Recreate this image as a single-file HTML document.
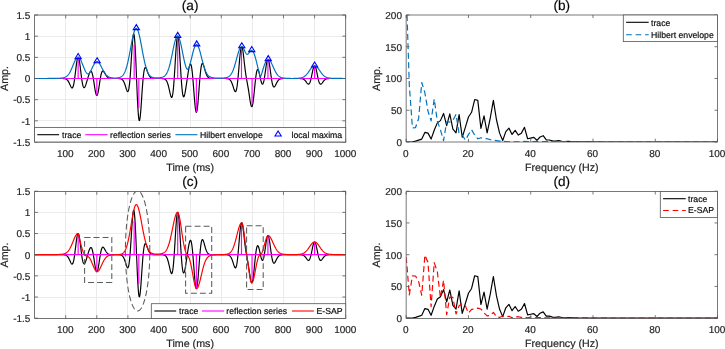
<!DOCTYPE html>
<html><head><meta charset="utf-8"><title>figure</title>
<style>html,body{margin:0;padding:0;background:#fff;}body{width:725px;height:349px;overflow:hidden;position:relative;font-family:"Liberation Sans",sans-serif;}</style>
</head><body>
<svg width="725" height="349" viewBox="0 0 725 349" style="position:absolute;left:0;top:0;will-change:transform;text-rendering:geometricPrecision;font-family:'Liberation Sans',sans-serif">
<rect width="725" height="349" fill="#fff"/>
<style>text{stroke:#262626;stroke-width:0.2px;}</style>
<defs>
<clipPath id="cpa"><rect x="34.60" y="15.00" width="311.10" height="127.00"/></clipPath>
<clipPath id="cpc"><rect x="34.60" y="191.50" width="311.10" height="127.00"/></clipPath>
<clipPath id="cpb"><rect x="406.20" y="15.00" width="311.30" height="127.00"/></clipPath>
<clipPath id="cpd"><rect x="406.20" y="191.50" width="311.30" height="127.00"/></clipPath>
</defs>
<line x1="65.50" y1="15.00" x2="65.50" y2="142.00" stroke="#ebebeb" stroke-width="1"/>
<line x1="96.50" y1="15.00" x2="96.50" y2="142.00" stroke="#ebebeb" stroke-width="1"/>
<line x1="127.50" y1="15.00" x2="127.50" y2="142.00" stroke="#ebebeb" stroke-width="1"/>
<line x1="159.50" y1="15.00" x2="159.50" y2="142.00" stroke="#ebebeb" stroke-width="1"/>
<line x1="190.50" y1="15.00" x2="190.50" y2="142.00" stroke="#ebebeb" stroke-width="1"/>
<line x1="221.50" y1="15.00" x2="221.50" y2="142.00" stroke="#ebebeb" stroke-width="1"/>
<line x1="252.50" y1="15.00" x2="252.50" y2="142.00" stroke="#ebebeb" stroke-width="1"/>
<line x1="283.50" y1="15.00" x2="283.50" y2="142.00" stroke="#ebebeb" stroke-width="1"/>
<line x1="314.50" y1="15.00" x2="314.50" y2="142.00" stroke="#ebebeb" stroke-width="1"/>
<line x1="345.50" y1="15.00" x2="345.50" y2="142.00" stroke="#ebebeb" stroke-width="1"/>
<line x1="34.60" y1="142.50" x2="345.70" y2="142.50" stroke="#ebebeb" stroke-width="1"/>
<line x1="34.60" y1="120.50" x2="345.70" y2="120.50" stroke="#ebebeb" stroke-width="1"/>
<line x1="34.60" y1="99.50" x2="345.70" y2="99.50" stroke="#ebebeb" stroke-width="1"/>
<line x1="34.60" y1="78.50" x2="345.70" y2="78.50" stroke="#ebebeb" stroke-width="1"/>
<line x1="34.60" y1="57.50" x2="345.70" y2="57.50" stroke="#ebebeb" stroke-width="1"/>
<line x1="34.60" y1="36.50" x2="345.70" y2="36.50" stroke="#ebebeb" stroke-width="1"/>
<line x1="34.60" y1="15.50" x2="345.70" y2="15.50" stroke="#ebebeb" stroke-width="1"/>
<path d="M34.60,78.50 L34.91,78.50 L35.22,78.50 L35.53,78.50 L35.84,78.50 L36.16,78.50 L36.47,78.50 L36.78,78.50 L37.09,78.50 L37.40,78.50 L37.71,78.50 L38.02,78.50 L38.33,78.50 L38.64,78.50 L38.96,78.50 L39.27,78.50 L39.58,78.50 L39.89,78.50 L40.20,78.50 L40.51,78.50 L40.82,78.50 L41.13,78.50 L41.44,78.50 L41.76,78.50 L42.07,78.50 L42.38,78.50 L42.69,78.50 L43.00,78.50 L43.31,78.50 L43.62,78.50 L43.93,78.50 L44.24,78.50 L44.56,78.50 L44.87,78.50 L45.18,78.50 L45.49,78.50 L45.80,78.50 L46.11,78.50 L46.42,78.50 L46.73,78.50 L47.04,78.50 L47.36,78.50 L47.67,78.50 L47.98,78.50 L48.29,78.50 L48.60,78.50 L48.91,78.50 L49.22,78.50 L49.53,78.50 L49.84,78.50 L50.16,78.50 L50.47,78.50 L50.78,78.50 L51.09,78.50 L51.40,78.50 L51.71,78.50 L52.02,78.50 L52.33,78.50 L52.64,78.50 L52.95,78.50 L53.27,78.50 L53.58,78.50 L53.89,78.50 L54.20,78.50 L54.51,78.50 L54.82,78.50 L55.13,78.50 L55.44,78.50 L55.75,78.50 L56.07,78.50 L56.38,78.50 L56.69,78.50 L57.00,78.50 L57.31,78.50 L57.62,78.50 L57.93,78.50 L58.24,78.50 L58.55,78.50 L58.87,78.50 L59.18,78.50 L59.49,78.50 L59.80,78.50 L60.11,78.50 L60.42,78.50 L60.73,78.50 L61.04,78.50 L61.35,78.50 L61.67,78.51 L61.98,78.51 L62.29,78.51 L62.60,78.52 L62.91,78.53 L63.22,78.54 L63.53,78.56 L63.84,78.58 L64.15,78.61 L64.47,78.64 L64.78,78.69 L65.09,78.76 L65.40,78.84 L65.71,78.94 L66.02,79.07 L66.33,79.24 L66.64,79.43 L66.95,79.67 L67.27,79.96 L67.58,80.29 L67.89,80.68 L68.20,81.13 L68.51,81.64 L68.82,82.20 L69.13,82.82 L69.44,83.47 L69.75,84.16 L70.07,84.87 L70.38,85.56 L70.69,86.23 L71.00,86.83 L71.31,87.34 L71.62,87.71 L71.93,87.92 L72.24,87.92 L72.55,87.68 L72.87,87.17 L73.18,86.37 L73.49,85.26 L73.80,83.85 L74.11,82.13 L74.42,80.14 L74.73,77.91 L75.04,75.50 L75.35,72.96 L75.67,70.37 L75.98,67.81 L76.29,65.36 L76.60,63.11 L76.91,61.14 L77.22,59.52 L77.53,58.32 L77.84,57.58 L78.15,57.33 L78.47,57.58 L78.78,58.32 L79.09,59.52 L79.40,61.14 L79.71,63.11 L80.02,65.35 L80.33,67.80 L80.64,70.36 L80.95,72.95 L81.26,75.48 L81.58,77.89 L81.89,80.11 L82.20,82.09 L82.51,83.78 L82.82,85.18 L83.13,86.25 L83.44,87.01 L83.75,87.47 L84.06,87.65 L84.38,87.56 L84.69,87.25 L85.00,86.75 L85.31,86.08 L85.62,85.29 L85.93,84.40 L86.24,83.43 L86.55,82.42 L86.86,81.37 L87.18,80.30 L87.49,79.24 L87.80,78.19 L88.11,77.15 L88.42,76.15 L88.73,75.20 L89.04,74.31 L89.35,73.49 L89.66,72.77 L89.98,72.17 L90.29,71.71 L90.60,71.41 L90.91,71.31 L91.22,71.42 L91.53,71.76 L91.84,72.35 L92.15,73.20 L92.46,74.30 L92.78,75.65 L93.09,77.23 L93.40,79.00 L93.71,80.92 L94.02,82.95 L94.33,85.02 L94.64,87.06 L94.95,89.02 L95.26,90.82 L95.58,92.39 L95.89,93.68 L96.20,94.64 L96.51,95.23 L96.82,95.43 L97.13,95.23 L97.44,94.64 L97.75,93.68 L98.06,92.39 L98.38,90.81 L98.69,89.01 L99.00,87.06 L99.31,85.01 L99.62,82.93 L99.93,80.90 L100.24,78.97 L100.55,77.19 L100.86,75.59 L101.18,74.22 L101.49,73.09 L101.80,72.21 L102.11,71.56 L102.42,71.16 L102.73,70.97 L103.04,70.97 L103.35,71.13 L103.66,71.43 L103.98,71.84 L104.29,72.32 L104.60,72.85 L104.91,73.41 L105.22,73.97 L105.53,74.52 L105.84,75.05 L106.15,75.54 L106.46,75.99 L106.78,76.39 L107.09,76.75 L107.40,77.07 L107.71,77.33 L108.02,77.56 L108.33,77.75 L108.64,77.91 L108.95,78.04 L109.26,78.14 L109.58,78.23 L109.89,78.29 L110.20,78.34 L110.51,78.38 L110.82,78.41 L111.13,78.44 L111.44,78.45 L111.75,78.47 L112.06,78.48 L112.38,78.48 L112.69,78.49 L113.00,78.49 L113.31,78.49 L113.62,78.50 L113.93,78.50 L114.24,78.50 L114.55,78.50 L114.86,78.50 L115.17,78.50 L115.49,78.50 L115.80,78.50 L116.11,78.50 L116.42,78.50 L116.73,78.50 L117.04,78.51 L117.35,78.51 L117.66,78.51 L117.97,78.52 L118.29,78.52 L118.60,78.53 L118.91,78.55 L119.22,78.57 L119.53,78.59 L119.84,78.62 L120.15,78.67 L120.46,78.73 L120.77,78.81 L121.09,78.91 L121.40,79.04 L121.71,79.21 L122.02,79.41 L122.33,79.67 L122.64,79.98 L122.95,80.36 L123.26,80.80 L123.57,81.33 L123.89,81.94 L124.20,82.63 L124.51,83.41 L124.82,84.27 L125.13,85.20 L125.44,86.19 L125.75,87.20 L126.06,88.21 L126.37,89.18 L126.69,90.06 L127.00,90.80 L127.31,91.33 L127.62,91.60 L127.93,91.53 L128.24,91.06 L128.55,90.13 L128.86,88.69 L129.17,86.70 L129.49,84.14 L129.80,81.01 L130.11,77.35 L130.42,73.20 L130.73,68.65 L131.04,63.81 L131.35,58.81 L131.66,53.82 L131.97,49.02 L132.29,44.57 L132.60,40.69 L132.91,37.54 L133.22,35.29 L133.53,34.08 L133.84,34.02 L134.15,35.17 L134.46,37.55 L134.77,41.13 L135.09,45.84 L135.40,51.54 L135.71,58.07 L136.02,65.23 L136.33,72.77 L136.64,80.46 L136.95,88.03 L137.26,95.25 L137.57,101.87 L137.89,107.69 L138.20,112.56 L138.51,116.34 L138.82,118.95 L139.13,120.37 L139.44,120.62 L139.75,119.75 L140.06,117.87 L140.37,115.12 L140.69,111.64 L141.00,107.61 L141.31,103.21 L141.62,98.62 L141.93,94.00 L142.24,89.51 L142.55,85.26 L142.86,81.37 L143.17,77.92 L143.48,74.96 L143.80,72.51 L144.11,70.57 L144.42,69.14 L144.73,68.18 L145.04,67.65 L145.35,67.48 L145.66,67.62 L145.97,68.02 L146.28,68.60 L146.60,69.32 L146.91,70.13 L147.22,70.99 L147.53,71.85 L147.84,72.69 L148.15,73.49 L148.46,74.23 L148.77,74.91 L149.08,75.51 L149.40,76.04 L149.71,76.49 L150.02,76.88 L150.33,77.21 L150.64,77.48 L150.95,77.70 L151.26,77.88 L151.57,78.03 L151.88,78.14 L152.20,78.23 L152.51,78.30 L152.82,78.35 L153.13,78.39 L153.44,78.42 L153.75,78.44 L154.06,78.46 L154.37,78.47 L154.68,78.48 L155.00,78.49 L155.31,78.49 L155.62,78.49 L155.93,78.50 L156.24,78.50 L156.55,78.50 L156.86,78.50 L157.17,78.50 L157.48,78.50 L157.80,78.50 L158.11,78.50 L158.42,78.50 L158.73,78.50 L159.04,78.50 L159.35,78.50 L159.66,78.50 L159.97,78.50 L160.28,78.50 L160.60,78.51 L160.91,78.51 L161.22,78.51 L161.53,78.52 L161.84,78.53 L162.15,78.54 L162.46,78.56 L162.77,78.58 L163.08,78.61 L163.40,78.66 L163.71,78.71 L164.02,78.79 L164.33,78.89 L164.64,79.02 L164.95,79.18 L165.26,79.39 L165.57,79.65 L165.88,79.97 L166.20,80.37 L166.51,80.84 L166.82,81.41 L167.13,82.09 L167.44,82.87 L167.75,83.76 L168.06,84.78 L168.37,85.90 L168.68,87.13 L169.00,88.45 L169.31,89.82 L169.62,91.23 L169.93,92.63 L170.24,93.96 L170.55,95.16 L170.86,96.17 L171.17,96.92 L171.48,97.34 L171.80,97.34 L172.11,96.86 L172.42,95.84 L172.73,94.24 L173.04,92.02 L173.35,89.19 L173.66,85.76 L173.97,81.78 L174.28,77.33 L174.59,72.50 L174.91,67.42 L175.22,62.23 L175.53,57.11 L175.84,52.21 L176.15,47.72 L176.46,43.78 L176.77,40.55 L177.08,38.15 L177.39,36.67 L177.71,36.17 L178.02,36.67 L178.33,38.14 L178.64,40.55 L178.95,43.78 L179.26,47.71 L179.57,52.21 L179.88,57.10 L180.19,62.22 L180.51,67.39 L180.82,72.46 L181.13,77.28 L181.44,81.72 L181.75,85.67 L182.06,89.07 L182.37,91.85 L182.68,94.00 L182.99,95.53 L183.31,96.44 L183.62,96.79 L183.93,96.62 L184.24,96.00 L184.55,95.00 L184.86,93.67 L185.17,92.08 L185.48,90.29 L185.79,88.36 L186.11,86.33 L186.42,84.24 L186.73,82.11 L187.04,79.98 L187.35,77.87 L187.66,75.81 L187.97,73.81 L188.28,71.90 L188.59,70.11 L188.91,68.48 L189.22,67.04 L189.53,65.83 L189.84,64.91 L190.15,64.32 L190.46,64.11 L190.77,64.33 L191.08,65.02 L191.39,66.20 L191.71,67.90 L192.02,70.10 L192.33,72.80 L192.64,75.95 L192.95,79.50 L193.26,83.34 L193.57,87.39 L193.88,91.53 L194.19,95.63 L194.51,99.54 L194.82,103.13 L195.13,106.28 L195.44,108.86 L195.75,110.79 L196.06,111.97 L196.37,112.37 L196.68,111.97 L196.99,110.78 L197.31,108.86 L197.62,106.28 L197.93,103.13 L198.24,99.53 L198.55,95.61 L198.86,91.51 L199.17,87.37 L199.48,83.30 L199.79,79.44 L200.11,75.87 L200.42,72.69 L200.73,69.95 L201.04,67.68 L201.35,65.91 L201.66,64.63 L201.97,63.81 L202.28,63.43 L202.59,63.43 L202.91,63.76 L203.22,64.36 L203.53,65.17 L203.84,66.14 L204.15,67.20 L204.46,68.31 L204.77,69.44 L205.08,70.54 L205.39,71.60 L205.70,72.58 L206.02,73.48 L206.33,74.29 L206.64,75.01 L206.95,75.63 L207.26,76.17 L207.57,76.62 L207.88,77.01 L208.19,77.32 L208.50,77.58 L208.82,77.79 L209.13,77.95 L209.44,78.09 L209.75,78.19 L210.06,78.27 L210.37,78.33 L210.68,78.37 L210.99,78.41 L211.30,78.43 L211.62,78.45 L211.93,78.47 L212.24,78.48 L212.55,78.48 L212.86,78.49 L213.17,78.49 L213.48,78.49 L213.79,78.50 L214.10,78.50 L214.42,78.50 L214.73,78.50 L215.04,78.50 L215.35,78.50 L215.66,78.50 L215.97,78.50 L216.28,78.50 L216.59,78.50 L216.90,78.50 L217.22,78.50 L217.53,78.50 L217.84,78.50 L218.15,78.50 L218.46,78.50 L218.77,78.50 L219.08,78.50 L219.39,78.50 L219.70,78.50 L220.02,78.50 L220.33,78.50 L220.64,78.50 L220.95,78.50 L221.26,78.50 L221.57,78.50 L221.88,78.50 L222.19,78.50 L222.50,78.50 L222.82,78.50 L223.13,78.50 L223.44,78.50 L223.75,78.50 L224.06,78.50 L224.37,78.50 L224.68,78.51 L224.99,78.51 L225.30,78.51 L225.62,78.52 L225.93,78.53 L226.24,78.54 L226.55,78.56 L226.86,78.58 L227.17,78.61 L227.48,78.65 L227.79,78.70 L228.10,78.77 L228.42,78.86 L228.73,78.98 L229.04,79.12 L229.35,79.30 L229.66,79.53 L229.97,79.81 L230.28,80.14 L230.59,80.54 L230.90,81.01 L231.22,81.56 L231.53,82.19 L231.84,82.89 L232.15,83.68 L232.46,84.54 L232.77,85.46 L233.08,86.43 L233.39,87.41 L233.70,88.39 L234.02,89.32 L234.33,90.16 L234.64,90.87 L234.95,91.39 L235.26,91.68 L235.57,91.68 L235.88,91.34 L236.19,90.62 L236.50,89.49 L236.81,87.93 L237.13,85.94 L237.44,83.52 L237.75,80.71 L238.06,77.55 L238.37,74.12 L238.68,70.51 L238.99,66.80 L239.30,63.12 L239.61,59.57 L239.93,56.26 L240.24,53.31 L240.55,50.81 L240.86,48.85 L241.17,47.47 L241.48,46.71 L241.79,46.60 L242.10,47.09 L242.41,48.17 L242.73,49.75 L243.04,51.77 L243.35,54.13 L243.66,56.73 L243.97,59.47 L244.28,62.27 L244.59,65.02 L244.90,67.68 L245.21,70.19 L245.53,72.53 L245.84,74.68 L246.15,76.66 L246.46,78.50 L246.77,80.23 L247.08,81.91 L247.39,83.57 L247.70,85.27 L248.01,87.04 L248.33,88.90 L248.64,90.87 L248.95,92.92 L249.26,95.04 L249.57,97.17 L249.88,99.26 L250.19,101.24 L250.50,103.01 L250.81,104.52 L251.13,105.67 L251.44,106.40 L251.75,106.67 L252.06,106.42 L252.37,105.66 L252.68,104.38 L252.99,102.61 L253.30,100.41 L253.61,97.85 L253.93,94.99 L254.24,91.94 L254.55,88.80 L254.86,85.65 L255.17,82.61 L255.48,79.75 L255.79,77.16 L256.10,74.88 L256.41,72.98 L256.73,71.48 L257.04,70.40 L257.35,69.73 L257.66,69.47 L257.97,69.58 L258.28,70.03 L258.59,70.78 L258.90,71.78 L259.21,72.98 L259.53,74.32 L259.84,75.75 L260.15,77.22 L260.46,78.66 L260.77,80.03 L261.08,81.27 L261.39,82.35 L261.70,83.21 L262.01,83.82 L262.33,84.14 L262.64,84.15 L262.95,83.83 L263.26,83.18 L263.57,82.19 L263.88,80.89 L264.19,79.29 L264.50,77.44 L264.81,75.39 L265.13,73.20 L265.44,70.95 L265.75,68.70 L266.06,66.54 L266.37,64.55 L266.68,62.81 L266.99,61.37 L267.30,60.31 L267.61,59.65 L267.93,59.43 L268.24,59.66 L268.55,60.33 L268.86,61.42 L269.17,62.87 L269.48,64.64 L269.79,66.67 L270.10,68.87 L270.41,71.18 L270.72,73.51 L271.04,75.80 L271.35,77.97 L271.66,79.98 L271.97,81.77 L272.28,83.31 L272.59,84.59 L272.90,85.58 L273.21,86.30 L273.52,86.76 L273.84,86.98 L274.15,86.98 L274.46,86.79 L274.77,86.45 L275.08,86.00 L275.39,85.46 L275.70,84.86 L276.01,84.23 L276.32,83.60 L276.64,82.98 L276.95,82.38 L277.26,81.83 L277.57,81.32 L277.88,80.87 L278.19,80.47 L278.50,80.11 L278.81,79.81 L279.12,79.55 L279.44,79.34 L279.75,79.16 L280.06,79.02 L280.37,78.90 L280.68,78.81 L280.99,78.73 L281.30,78.68 L281.61,78.63 L281.92,78.60 L282.24,78.57 L282.55,78.55 L282.86,78.54 L283.17,78.53 L283.48,78.52 L283.79,78.51 L284.10,78.51 L284.41,78.51 L284.72,78.50 L285.04,78.50 L285.35,78.50 L285.66,78.50 L285.97,78.50 L286.28,78.50 L286.59,78.50 L286.90,78.50 L287.21,78.50 L287.52,78.50 L287.84,78.50 L288.15,78.50 L288.46,78.50 L288.77,78.50 L289.08,78.50 L289.39,78.50 L289.70,78.50 L290.01,78.50 L290.32,78.50 L290.64,78.50 L290.95,78.50 L291.26,78.50 L291.57,78.50 L291.88,78.50 L292.19,78.50 L292.50,78.50 L292.81,78.50 L293.12,78.50 L293.44,78.50 L293.75,78.50 L294.06,78.50 L294.37,78.50 L294.68,78.50 L294.99,78.50 L295.30,78.50 L295.61,78.50 L295.92,78.50 L296.24,78.50 L296.55,78.50 L296.86,78.50 L297.17,78.50 L297.48,78.50 L297.79,78.50 L298.10,78.50 L298.41,78.51 L298.72,78.51 L299.03,78.51 L299.35,78.52 L299.66,78.52 L299.97,78.53 L300.28,78.55 L300.59,78.56 L300.90,78.59 L301.21,78.62 L301.52,78.66 L301.83,78.70 L302.15,78.77 L302.46,78.84 L302.77,78.94 L303.08,79.06 L303.39,79.20 L303.70,79.37 L304.01,79.58 L304.32,79.81 L304.63,80.08 L304.95,80.38 L305.26,80.72 L305.57,81.09 L305.88,81.48 L306.19,81.90 L306.50,82.32 L306.81,82.74 L307.12,83.14 L307.43,83.50 L307.75,83.80 L308.06,84.03 L308.37,84.15 L308.68,84.15 L308.99,84.01 L309.30,83.70 L309.61,83.22 L309.92,82.56 L310.23,81.71 L310.55,80.68 L310.86,79.49 L311.17,78.15 L311.48,76.70 L311.79,75.18 L312.10,73.62 L312.41,72.08 L312.72,70.61 L313.03,69.26 L313.35,68.08 L313.66,67.11 L313.97,66.39 L314.28,65.95 L314.59,65.80 L314.90,65.95 L315.21,66.39 L315.52,67.11 L315.83,68.08 L316.15,69.26 L316.46,70.61 L316.77,72.08 L317.08,73.62 L317.39,75.18 L317.70,76.70 L318.01,78.15 L318.32,79.49 L318.63,80.68 L318.95,81.71 L319.26,82.56 L319.57,83.22 L319.88,83.70 L320.19,84.01 L320.50,84.15 L320.81,84.15 L321.12,84.03 L321.43,83.80 L321.75,83.50 L322.06,83.14 L322.37,82.74 L322.68,82.32 L322.99,81.90 L323.30,81.48 L323.61,81.09 L323.92,80.72 L324.23,80.38 L324.55,80.08 L324.86,79.81 L325.17,79.58 L325.48,79.37 L325.79,79.20 L326.10,79.06 L326.41,78.94 L326.72,78.84 L327.03,78.77 L327.35,78.70 L327.66,78.66 L327.97,78.62 L328.28,78.59 L328.59,78.56 L328.90,78.55 L329.21,78.53 L329.52,78.52 L329.83,78.52 L330.14,78.51 L330.46,78.51 L330.77,78.51 L331.08,78.50 L331.39,78.50 L331.70,78.50 L332.01,78.50 L332.32,78.50 L332.63,78.50 L332.94,78.50 L333.26,78.50 L333.57,78.50 L333.88,78.50 L334.19,78.50 L334.50,78.50 L334.81,78.50 L335.12,78.50 L335.43,78.50 L335.74,78.50 L336.06,78.50 L336.37,78.50 L336.68,78.50 L336.99,78.50 L337.30,78.50 L337.61,78.50 L337.92,78.50 L338.23,78.50 L338.54,78.50 L338.86,78.50 L339.17,78.50 L339.48,78.50 L339.79,78.50 L340.10,78.50 L340.41,78.50 L340.72,78.50 L341.03,78.50 L341.34,78.50 L341.66,78.50 L341.97,78.50 L342.28,78.50 L342.59,78.50 L342.90,78.50 L343.21,78.50 L343.52,78.50 L343.83,78.50 L344.14,78.50 L344.46,78.50 L344.77,78.50 L345.08,78.50 L345.39,78.50" fill="none" stroke="#000" stroke-width="1.18" stroke-linejoin="round" clip-path="url(#cpa)"/>
<path d="M34.60,78.50 L345.39,78.50 M78.15,78.50 L78.15,57.33 M96.82,78.50 L96.82,95.43 M134.15,78.50 L134.15,44.63 M138.82,78.50 L138.82,108.13 M177.71,78.50 L177.71,36.17 M196.37,78.50 L196.37,112.37 M241.48,78.50 L241.48,48.87 M252.06,78.50 L252.06,103.90 M267.93,78.50 L267.93,59.45 M314.59,78.50 L314.59,65.80" fill="none" stroke="#ff00ff" stroke-width="1.18" clip-path="url(#cpa)"/>
<path d="M34.60,78.48 L34.91,78.48 L35.22,78.48 L35.53,78.48 L35.84,78.49 L36.16,78.49 L36.47,78.49 L36.78,78.49 L37.09,78.49 L37.40,78.49 L37.71,78.49 L38.02,78.49 L38.33,78.50 L38.64,78.50 L38.96,78.50 L39.27,78.50 L39.58,78.50 L39.89,78.50 L40.20,78.50 L40.51,78.50 L40.82,78.50 L41.13,78.49 L41.44,78.49 L41.76,78.49 L42.07,78.49 L42.38,78.49 L42.69,78.49 L43.00,78.49 L43.31,78.49 L43.62,78.48 L43.93,78.48 L44.24,78.48 L44.56,78.48 L44.87,78.48 L45.18,78.48 L45.49,78.48 L45.80,78.47 L46.11,78.47 L46.42,78.47 L46.73,78.47 L47.04,78.47 L47.36,78.47 L47.67,78.46 L47.98,78.46 L48.29,78.46 L48.60,78.46 L48.91,78.46 L49.22,78.45 L49.53,78.45 L49.84,78.45 L50.16,78.45 L50.47,78.44 L50.78,78.44 L51.09,78.44 L51.40,78.44 L51.71,78.43 L52.02,78.43 L52.33,78.43 L52.64,78.42 L52.95,78.42 L53.27,78.41 L53.58,78.41 L53.89,78.40 L54.20,78.40 L54.51,78.39 L54.82,78.39 L55.13,78.38 L55.44,78.38 L55.75,78.37 L56.07,78.36 L56.38,78.36 L56.69,78.35 L57.00,78.34 L57.31,78.33 L57.62,78.32 L57.93,78.31 L58.24,78.30 L58.55,78.28 L58.87,78.27 L59.18,78.25 L59.49,78.24 L59.80,78.22 L60.11,78.20 L60.42,78.18 L60.73,78.15 L61.04,78.13 L61.35,78.10 L61.67,78.06 L61.98,78.02 L62.29,77.98 L62.60,77.93 L62.91,77.88 L63.22,77.82 L63.53,77.75 L63.84,77.67 L64.15,77.58 L64.47,77.49 L64.78,77.37 L65.09,77.25 L65.40,77.10 L65.71,76.94 L66.02,76.77 L66.33,76.57 L66.64,76.34 L66.95,76.10 L67.27,75.82 L67.58,75.52 L67.89,75.19 L68.20,74.83 L68.51,74.44 L68.82,74.02 L69.13,73.56 L69.44,73.07 L69.75,72.55 L70.07,71.99 L70.38,71.39 L70.69,70.77 L71.00,70.12 L71.31,69.44 L71.62,68.74 L71.93,68.01 L72.24,67.27 L72.55,66.51 L72.87,65.75 L73.18,64.98 L73.49,64.21 L73.80,63.46 L74.11,62.72 L74.42,62.00 L74.73,61.32 L75.04,60.66 L75.35,60.05 L75.67,59.49 L75.98,58.98 L76.29,58.53 L76.60,58.15 L76.91,57.83 L77.22,57.59 L77.53,57.43 L77.84,57.34 L78.15,57.33 L78.47,57.40 L78.78,57.55 L79.09,57.78 L79.40,58.09 L79.71,58.46 L80.02,58.91 L80.33,59.41 L80.64,59.98 L80.95,60.60 L81.26,61.26 L81.58,61.96 L81.89,62.69 L82.20,63.45 L82.51,64.22 L82.82,65.01 L83.13,65.79 L83.44,66.58 L83.75,67.35 L84.06,68.11 L84.38,68.85 L84.69,69.56 L85.00,70.24 L85.31,70.88 L85.62,71.48 L85.93,72.03 L86.24,72.52 L86.55,72.95 L86.86,73.32 L87.18,73.60 L87.49,73.80 L87.80,73.90 L88.11,73.91 L88.42,73.82 L88.73,73.64 L89.04,73.37 L89.35,73.03 L89.66,72.62 L89.98,72.16 L90.29,71.65 L90.60,71.10 L90.91,70.52 L91.22,69.92 L91.53,69.29 L91.84,68.66 L92.15,68.01 L92.46,67.37 L92.78,66.73 L93.09,66.10 L93.40,65.49 L93.71,64.91 L94.02,64.35 L94.33,63.83 L94.64,63.36 L94.95,62.93 L95.26,62.55 L95.58,62.23 L95.89,61.97 L96.20,61.77 L96.51,61.63 L96.82,61.56 L97.13,61.56 L97.44,61.62 L97.75,61.75 L98.06,61.93 L98.38,62.18 L98.69,62.49 L99.00,62.85 L99.31,63.25 L99.62,63.70 L99.93,64.20 L100.24,64.72 L100.55,65.28 L100.86,65.85 L101.18,66.45 L101.49,67.06 L101.80,67.67 L102.11,68.29 L102.42,68.90 L102.73,69.51 L103.04,70.11 L103.35,70.69 L103.66,71.25 L103.98,71.80 L104.29,72.32 L104.60,72.81 L104.91,73.28 L105.22,73.73 L105.53,74.15 L105.84,74.54 L106.15,74.90 L106.46,75.23 L106.78,75.54 L107.09,75.82 L107.40,76.08 L107.71,76.32 L108.02,76.53 L108.33,76.72 L108.64,76.89 L108.95,77.05 L109.26,77.19 L109.58,77.31 L109.89,77.42 L110.20,77.51 L110.51,77.59 L110.82,77.67 L111.13,77.73 L111.44,77.79 L111.75,77.83 L112.06,77.87 L112.38,77.91 L112.69,77.94 L113.00,77.96 L113.31,77.98 L113.62,77.99 L113.93,78.01 L114.24,78.01 L114.55,78.02 L114.86,78.02 L115.17,78.02 L115.49,78.01 L115.80,78.00 L116.11,77.99 L116.42,77.98 L116.73,77.96 L117.04,77.93 L117.35,77.90 L117.66,77.87 L117.97,77.83 L118.29,77.78 L118.60,77.72 L118.91,77.66 L119.22,77.58 L119.53,77.50 L119.84,77.40 L120.15,77.28 L120.46,77.15 L120.77,77.00 L121.09,76.83 L121.40,76.63 L121.71,76.41 L122.02,76.16 L122.33,75.88 L122.64,75.56 L122.95,75.20 L123.26,74.80 L123.57,74.35 L123.89,73.86 L124.20,73.31 L124.51,72.71 L124.82,72.05 L125.13,71.33 L125.44,70.55 L125.75,69.70 L126.06,68.78 L126.37,67.80 L126.69,66.74 L127.00,65.61 L127.31,64.41 L127.62,63.15 L127.93,61.82 L128.24,60.42 L128.55,58.96 L128.86,57.45 L129.17,55.90 L129.49,54.29 L129.80,52.66 L130.11,51.00 L130.42,49.31 L130.73,47.63 L131.04,45.94 L131.35,44.27 L131.66,42.62 L131.97,41.01 L132.29,39.45 L132.60,37.95 L132.91,36.53 L133.22,35.18 L133.53,33.93 L133.84,32.79 L134.15,31.76 L134.46,30.86 L134.77,30.08 L135.09,29.45 L135.40,28.96 L135.71,28.62 L136.02,28.43 L136.33,28.39 L136.64,28.51 L136.95,28.78 L137.26,29.20 L137.57,29.76 L137.89,30.47 L138.20,31.31 L138.51,32.28 L138.82,33.37 L139.13,34.56 L139.44,35.86 L139.75,37.25 L140.06,38.71 L140.37,40.24 L140.69,41.83 L141.00,43.45 L141.31,45.11 L141.62,46.79 L141.93,48.47 L142.24,50.16 L142.55,51.83 L142.86,53.48 L143.17,55.09 L143.48,56.67 L143.80,58.21 L144.11,59.69 L144.42,61.12 L144.73,62.48 L145.04,63.78 L145.35,65.01 L145.66,66.18 L145.97,67.27 L146.28,68.29 L146.60,69.25 L146.91,70.13 L147.22,70.95 L147.53,71.70 L147.84,72.39 L148.15,73.02 L148.46,73.60 L148.77,74.12 L149.08,74.59 L149.40,75.01 L149.71,75.39 L150.02,75.72 L150.33,76.02 L150.64,76.29 L150.95,76.53 L151.26,76.73 L151.57,76.92 L151.88,77.08 L152.20,77.21 L152.51,77.33 L152.82,77.44 L153.13,77.53 L153.44,77.60 L153.75,77.67 L154.06,77.72 L154.37,77.77 L154.68,77.81 L155.00,77.84 L155.31,77.86 L155.62,77.88 L155.93,77.90 L156.24,77.91 L156.55,77.91 L156.86,77.92 L157.17,77.91 L157.48,77.91 L157.80,77.90 L158.11,77.89 L158.42,77.87 L158.73,77.85 L159.04,77.83 L159.35,77.80 L159.66,77.77 L159.97,77.74 L160.28,77.69 L160.60,77.65 L160.91,77.59 L161.22,77.53 L161.53,77.46 L161.84,77.38 L162.15,77.29 L162.46,77.19 L162.77,77.07 L163.08,76.93 L163.40,76.78 L163.71,76.61 L164.02,76.41 L164.33,76.19 L164.64,75.94 L164.95,75.66 L165.26,75.35 L165.57,74.99 L165.88,74.59 L166.20,74.15 L166.51,73.66 L166.82,73.12 L167.13,72.52 L167.44,71.86 L167.75,71.15 L168.06,70.37 L168.37,69.52 L168.68,68.61 L169.00,67.63 L169.31,66.58 L169.62,65.47 L169.93,64.29 L170.24,63.04 L170.55,61.74 L170.86,60.38 L171.17,58.98 L171.48,57.53 L171.80,56.04 L172.11,54.53 L172.42,53.00 L172.73,51.47 L173.04,49.94 L173.35,48.43 L173.66,46.95 L173.97,45.52 L174.28,44.14 L174.59,42.84 L174.91,41.61 L175.22,40.49 L175.53,39.47 L175.84,38.57 L176.15,37.80 L176.46,37.17 L176.77,36.69 L177.08,36.36 L177.39,36.18 L177.71,36.16 L178.02,36.31 L178.33,36.61 L178.64,37.06 L178.95,37.67 L179.26,38.42 L179.57,39.31 L179.88,40.32 L180.19,41.45 L180.51,42.69 L180.82,44.01 L181.13,45.41 L181.44,46.88 L181.75,48.39 L182.06,49.94 L182.37,51.51 L182.68,53.09 L182.99,54.66 L183.31,56.21 L183.62,57.73 L183.93,59.20 L184.24,60.62 L184.55,61.98 L184.86,63.26 L185.17,64.45 L185.48,65.55 L185.79,66.54 L186.11,67.41 L186.42,68.13 L186.73,68.70 L187.04,69.09 L187.35,69.30 L187.66,69.31 L187.97,69.13 L188.28,68.77 L188.59,68.23 L188.91,67.55 L189.22,66.74 L189.53,65.82 L189.84,64.80 L190.15,63.71 L190.46,62.55 L190.77,61.34 L191.08,60.09 L191.39,58.82 L191.71,57.53 L192.02,56.24 L192.33,54.97 L192.64,53.71 L192.95,52.49 L193.26,51.33 L193.57,50.22 L193.88,49.18 L194.19,48.23 L194.51,47.37 L194.82,46.62 L195.13,45.97 L195.44,45.45 L195.75,45.05 L196.06,44.77 L196.37,44.63 L196.68,44.61 L196.99,44.73 L197.31,44.98 L197.62,45.35 L197.93,45.84 L198.24,46.45 L198.55,47.16 L198.86,47.98 L199.17,48.88 L199.48,49.86 L199.79,50.91 L200.11,52.02 L200.42,53.17 L200.73,54.36 L201.04,55.58 L201.35,56.81 L201.66,58.05 L201.97,59.28 L202.28,60.50 L202.59,61.69 L202.91,62.86 L203.22,63.99 L203.53,65.09 L203.84,66.14 L204.15,67.14 L204.46,68.08 L204.77,68.98 L205.08,69.82 L205.39,70.61 L205.70,71.34 L206.02,72.02 L206.33,72.64 L206.64,73.22 L206.95,73.74 L207.26,74.22 L207.57,74.65 L207.88,75.05 L208.19,75.40 L208.50,75.72 L208.82,76.00 L209.13,76.25 L209.44,76.48 L209.75,76.68 L210.06,76.85 L210.37,77.01 L210.68,77.15 L210.99,77.27 L211.30,77.37 L211.62,77.47 L211.93,77.55 L212.24,77.62 L212.55,77.69 L212.86,77.75 L213.17,77.80 L213.48,77.84 L213.79,77.88 L214.10,77.91 L214.42,77.95 L214.73,77.97 L215.04,78.00 L215.35,78.02 L215.66,78.04 L215.97,78.06 L216.28,78.07 L216.59,78.08 L216.90,78.10 L217.22,78.11 L217.53,78.11 L217.84,78.12 L218.15,78.13 L218.46,78.13 L218.77,78.13 L219.08,78.14 L219.39,78.14 L219.70,78.14 L220.02,78.13 L220.33,78.13 L220.64,78.12 L220.95,78.12 L221.26,78.11 L221.57,78.10 L221.88,78.09 L222.19,78.08 L222.50,78.06 L222.82,78.05 L223.13,78.03 L223.44,78.00 L223.75,77.98 L224.06,77.95 L224.37,77.92 L224.68,77.88 L224.99,77.84 L225.30,77.79 L225.62,77.74 L225.93,77.68 L226.24,77.61 L226.55,77.53 L226.86,77.44 L227.17,77.34 L227.48,77.22 L227.79,77.09 L228.10,76.93 L228.42,76.76 L228.73,76.57 L229.04,76.35 L229.35,76.11 L229.66,75.84 L229.97,75.53 L230.28,75.19 L230.59,74.81 L230.90,74.40 L231.22,73.94 L231.53,73.44 L231.84,72.89 L232.15,72.30 L232.46,71.65 L232.77,70.96 L233.08,70.21 L233.39,69.42 L233.70,68.57 L234.02,67.68 L234.33,66.74 L234.64,65.75 L234.95,64.73 L235.26,63.67 L235.57,62.57 L235.88,61.46 L236.19,60.32 L236.50,59.17 L236.81,58.02 L237.13,56.87 L237.44,55.74 L237.75,54.63 L238.06,53.55 L238.37,52.52 L238.68,51.55 L238.99,50.63 L239.30,49.79 L239.61,49.03 L239.93,48.37 L240.24,47.80 L240.55,47.33 L240.86,46.97 L241.17,46.72 L241.48,46.59 L241.79,46.57 L242.10,46.67 L242.41,46.87 L242.73,47.17 L243.04,47.57 L243.35,48.06 L243.66,48.62 L243.97,49.23 L244.28,49.89 L244.59,50.57 L244.90,51.25 L245.21,51.91 L245.53,52.53 L245.84,53.08 L246.15,53.55 L246.46,53.93 L246.77,54.19 L247.08,54.32 L247.39,54.34 L247.70,54.24 L248.01,54.03 L248.33,53.74 L248.64,53.37 L248.95,52.95 L249.26,52.51 L249.57,52.07 L249.88,51.64 L250.19,51.24 L250.50,50.90 L250.81,50.63 L251.13,50.44 L251.44,50.33 L251.75,50.33 L252.06,50.43 L252.37,50.63 L252.68,50.95 L252.99,51.37 L253.30,51.89 L253.61,52.52 L253.93,53.24 L254.24,54.06 L254.55,54.95 L254.86,55.93 L255.17,56.97 L255.48,58.07 L255.79,59.22 L256.10,60.41 L256.41,61.64 L256.73,62.89 L257.04,64.15 L257.35,65.43 L257.66,66.71 L257.97,67.99 L258.28,69.27 L258.59,70.52 L258.90,71.76 L259.21,72.96 L259.53,74.11 L259.84,75.17 L260.15,76.04 L260.46,76.50 L260.77,76.30 L261.08,75.58 L261.39,74.65 L261.70,73.63 L262.01,72.59 L262.33,71.54 L262.64,70.49 L262.95,69.47 L263.26,68.46 L263.57,67.48 L263.88,66.54 L264.19,65.63 L264.50,64.77 L264.81,63.96 L265.13,63.19 L265.44,62.49 L265.75,61.85 L266.06,61.28 L266.37,60.78 L266.68,60.35 L266.99,60.00 L267.30,59.73 L267.61,59.54 L267.93,59.42 L268.24,59.39 L268.55,59.44 L268.86,59.57 L269.17,59.77 L269.48,60.04 L269.79,60.38 L270.10,60.79 L270.41,61.24 L270.72,61.76 L271.04,62.31 L271.35,62.91 L271.66,63.54 L271.97,64.19 L272.28,64.87 L272.59,65.56 L272.90,66.26 L273.21,66.96 L273.52,67.66 L273.84,68.35 L274.15,69.03 L274.46,69.69 L274.77,70.33 L275.08,70.95 L275.39,71.54 L275.70,72.11 L276.01,72.65 L276.32,73.16 L276.64,73.63 L276.95,74.08 L277.26,74.49 L277.57,74.88 L277.88,75.23 L278.19,75.56 L278.50,75.85 L278.81,76.12 L279.12,76.37 L279.44,76.59 L279.75,76.79 L280.06,76.97 L280.37,77.13 L280.68,77.28 L280.99,77.41 L281.30,77.52 L281.61,77.62 L281.92,77.71 L282.24,77.79 L282.55,77.86 L282.86,77.92 L283.17,77.98 L283.48,78.03 L283.79,78.07 L284.10,78.11 L284.41,78.14 L284.72,78.17 L285.04,78.20 L285.35,78.23 L285.66,78.25 L285.97,78.27 L286.28,78.29 L286.59,78.31 L286.90,78.32 L287.21,78.34 L287.52,78.35 L287.84,78.37 L288.15,78.38 L288.46,78.39 L288.77,78.40 L289.08,78.41 L289.39,78.42 L289.70,78.43 L290.01,78.44 L290.32,78.45 L290.64,78.46 L290.95,78.47 L291.26,78.48 L291.57,78.48 L291.88,78.49 L292.19,78.50 L292.50,78.49 L292.81,78.48 L293.12,78.47 L293.44,78.47 L293.75,78.46 L294.06,78.45 L294.37,78.44 L294.68,78.43 L294.99,78.42 L295.30,78.41 L295.61,78.39 L295.92,78.38 L296.24,78.37 L296.55,78.35 L296.86,78.34 L297.17,78.32 L297.48,78.30 L297.79,78.28 L298.10,78.26 L298.41,78.24 L298.72,78.21 L299.03,78.18 L299.35,78.14 L299.66,78.11 L299.97,78.06 L300.28,78.02 L300.59,77.96 L300.90,77.90 L301.21,77.83 L301.52,77.75 L301.83,77.67 L302.15,77.57 L302.46,77.46 L302.77,77.34 L303.08,77.20 L303.39,77.05 L303.70,76.89 L304.01,76.71 L304.32,76.51 L304.63,76.29 L304.95,76.06 L305.26,75.80 L305.57,75.53 L305.88,75.23 L306.19,74.92 L306.50,74.59 L306.81,74.23 L307.12,73.86 L307.43,73.47 L307.75,73.07 L308.06,72.65 L308.37,72.22 L308.68,71.78 L308.99,71.33 L309.30,70.88 L309.61,70.43 L309.92,69.97 L310.23,69.53 L310.55,69.09 L310.86,68.66 L311.17,68.25 L311.48,67.86 L311.79,67.50 L312.10,67.16 L312.41,66.86 L312.72,66.58 L313.03,66.35 L313.35,66.15 L313.66,66.00 L313.97,65.89 L314.28,65.82 L314.59,65.80 L314.90,65.82 L315.21,65.89 L315.52,66.01 L315.83,66.16 L316.15,66.36 L316.46,66.60 L316.77,66.87 L317.08,67.18 L317.39,67.52 L317.70,67.88 L318.01,68.27 L318.32,68.68 L318.63,69.10 L318.95,69.54 L319.26,69.99 L319.57,70.44 L319.88,70.89 L320.19,71.34 L320.50,71.79 L320.81,72.23 L321.12,72.66 L321.43,73.07 L321.75,73.48 L322.06,73.86 L322.37,74.23 L322.68,74.58 L322.99,74.91 L323.30,75.23 L323.61,75.52 L323.92,75.79 L324.23,76.04 L324.55,76.28 L324.86,76.49 L325.17,76.69 L325.48,76.87 L325.79,77.03 L326.10,77.18 L326.41,77.31 L326.72,77.43 L327.03,77.54 L327.35,77.64 L327.66,77.72 L327.97,77.80 L328.28,77.87 L328.59,77.93 L328.90,77.98 L329.21,78.03 L329.52,78.07 L329.83,78.11 L330.14,78.14 L330.46,78.17 L330.77,78.20 L331.08,78.22 L331.39,78.24 L331.70,78.26 L332.01,78.28 L332.32,78.29 L332.63,78.30 L332.94,78.32 L333.26,78.33 L333.57,78.34 L333.88,78.35 L334.19,78.36 L334.50,78.37 L334.81,78.37 L335.12,78.38 L335.43,78.39 L335.74,78.39 L336.06,78.40 L336.37,78.40 L336.68,78.41 L336.99,78.41 L337.30,78.42 L337.61,78.42 L337.92,78.43 L338.23,78.43 L338.54,78.43 L338.86,78.44 L339.17,78.44 L339.48,78.44 L339.79,78.44 L340.10,78.45 L340.41,78.45 L340.72,78.45 L341.03,78.45 L341.34,78.46 L341.66,78.46 L341.97,78.46 L342.28,78.46 L342.59,78.47 L342.90,78.47 L343.21,78.47 L343.52,78.47 L343.83,78.47 L344.14,78.47 L344.46,78.48 L344.77,78.48 L345.08,78.48 L345.39,78.48" fill="none" stroke="#0072bd" stroke-width="1.18" stroke-linejoin="round" clip-path="url(#cpa)"/>
<path d="M78.15,53.58 L81.25,58.58 L75.05,58.58 Z" fill="none" stroke="#0000ff" stroke-width="1.1"/>
<path d="M97.13,57.81 L100.23,62.81 L94.03,62.81 Z" fill="none" stroke="#0000ff" stroke-width="1.1"/>
<path d="M136.33,24.64 L139.43,29.64 L133.23,29.64 Z" fill="none" stroke="#0000ff" stroke-width="1.1"/>
<path d="M177.71,32.41 L180.81,37.41 L174.61,37.41 Z" fill="none" stroke="#0000ff" stroke-width="1.1"/>
<path d="M196.68,40.86 L199.78,45.86 L193.58,45.86 Z" fill="none" stroke="#0000ff" stroke-width="1.1"/>
<path d="M241.79,42.82 L244.89,47.82 L238.69,47.82 Z" fill="none" stroke="#0000ff" stroke-width="1.1"/>
<path d="M251.75,46.58 L254.85,51.58 L248.65,51.58 Z" fill="none" stroke="#0000ff" stroke-width="1.1"/>
<path d="M268.24,55.64 L271.34,60.64 L265.14,60.64 Z" fill="none" stroke="#0000ff" stroke-width="1.1"/>
<path d="M314.59,62.05 L317.69,67.05 L311.49,67.05 Z" fill="none" stroke="#0000ff" stroke-width="1.1"/>
<line x1="65.50" y1="191.50" x2="65.50" y2="318.50" stroke="#ebebeb" stroke-width="1"/>
<line x1="96.50" y1="191.50" x2="96.50" y2="318.50" stroke="#ebebeb" stroke-width="1"/>
<line x1="127.50" y1="191.50" x2="127.50" y2="318.50" stroke="#ebebeb" stroke-width="1"/>
<line x1="159.50" y1="191.50" x2="159.50" y2="318.50" stroke="#ebebeb" stroke-width="1"/>
<line x1="190.50" y1="191.50" x2="190.50" y2="318.50" stroke="#ebebeb" stroke-width="1"/>
<line x1="221.50" y1="191.50" x2="221.50" y2="318.50" stroke="#ebebeb" stroke-width="1"/>
<line x1="252.50" y1="191.50" x2="252.50" y2="318.50" stroke="#ebebeb" stroke-width="1"/>
<line x1="283.50" y1="191.50" x2="283.50" y2="318.50" stroke="#ebebeb" stroke-width="1"/>
<line x1="314.50" y1="191.50" x2="314.50" y2="318.50" stroke="#ebebeb" stroke-width="1"/>
<line x1="345.50" y1="191.50" x2="345.50" y2="318.50" stroke="#ebebeb" stroke-width="1"/>
<line x1="34.60" y1="318.50" x2="345.70" y2="318.50" stroke="#ebebeb" stroke-width="1"/>
<line x1="34.60" y1="297.50" x2="345.70" y2="297.50" stroke="#ebebeb" stroke-width="1"/>
<line x1="34.60" y1="275.50" x2="345.70" y2="275.50" stroke="#ebebeb" stroke-width="1"/>
<line x1="34.60" y1="254.50" x2="345.70" y2="254.50" stroke="#ebebeb" stroke-width="1"/>
<line x1="34.60" y1="233.50" x2="345.70" y2="233.50" stroke="#ebebeb" stroke-width="1"/>
<line x1="34.60" y1="212.50" x2="345.70" y2="212.50" stroke="#ebebeb" stroke-width="1"/>
<line x1="34.60" y1="191.50" x2="345.70" y2="191.50" stroke="#ebebeb" stroke-width="1"/>
<path d="M34.60,254.70 L34.91,254.70 L35.22,254.70 L35.53,254.70 L35.84,254.70 L36.16,254.70 L36.47,254.70 L36.78,254.70 L37.09,254.70 L37.40,254.70 L37.71,254.70 L38.02,254.70 L38.33,254.70 L38.64,254.70 L38.96,254.70 L39.27,254.70 L39.58,254.70 L39.89,254.70 L40.20,254.70 L40.51,254.70 L40.82,254.70 L41.13,254.70 L41.44,254.70 L41.76,254.70 L42.07,254.70 L42.38,254.70 L42.69,254.70 L43.00,254.70 L43.31,254.70 L43.62,254.70 L43.93,254.70 L44.24,254.70 L44.56,254.70 L44.87,254.70 L45.18,254.70 L45.49,254.70 L45.80,254.70 L46.11,254.70 L46.42,254.70 L46.73,254.70 L47.04,254.70 L47.36,254.70 L47.67,254.70 L47.98,254.70 L48.29,254.70 L48.60,254.70 L48.91,254.70 L49.22,254.70 L49.53,254.70 L49.84,254.70 L50.16,254.70 L50.47,254.70 L50.78,254.70 L51.09,254.70 L51.40,254.70 L51.71,254.70 L52.02,254.70 L52.33,254.70 L52.64,254.70 L52.95,254.70 L53.27,254.70 L53.58,254.70 L53.89,254.70 L54.20,254.70 L54.51,254.70 L54.82,254.70 L55.13,254.70 L55.44,254.70 L55.75,254.70 L56.07,254.70 L56.38,254.70 L56.69,254.70 L57.00,254.70 L57.31,254.70 L57.62,254.70 L57.93,254.70 L58.24,254.70 L58.55,254.70 L58.87,254.70 L59.18,254.70 L59.49,254.70 L59.80,254.70 L60.11,254.70 L60.42,254.70 L60.73,254.70 L61.04,254.70 L61.35,254.70 L61.67,254.71 L61.98,254.71 L62.29,254.71 L62.60,254.72 L62.91,254.73 L63.22,254.74 L63.53,254.76 L63.84,254.78 L64.15,254.81 L64.47,254.84 L64.78,254.89 L65.09,254.96 L65.40,255.04 L65.71,255.14 L66.02,255.27 L66.33,255.44 L66.64,255.63 L66.95,255.87 L67.27,256.16 L67.58,256.49 L67.89,256.88 L68.20,257.33 L68.51,257.84 L68.82,258.40 L69.13,259.02 L69.44,259.67 L69.75,260.36 L70.07,261.07 L70.38,261.76 L70.69,262.43 L71.00,263.03 L71.31,263.54 L71.62,263.91 L71.93,264.12 L72.24,264.12 L72.55,263.88 L72.87,263.37 L73.18,262.57 L73.49,261.46 L73.80,260.05 L74.11,258.33 L74.42,256.34 L74.73,254.11 L75.04,251.70 L75.35,249.16 L75.67,246.57 L75.98,244.01 L76.29,241.56 L76.60,239.31 L76.91,237.34 L77.22,235.72 L77.53,234.52 L77.84,233.78 L78.15,233.53 L78.47,233.78 L78.78,234.52 L79.09,235.72 L79.40,237.34 L79.71,239.31 L80.02,241.55 L80.33,244.00 L80.64,246.56 L80.95,249.15 L81.26,251.68 L81.58,254.09 L81.89,256.31 L82.20,258.29 L82.51,259.98 L82.82,261.38 L83.13,262.45 L83.44,263.21 L83.75,263.67 L84.06,263.85 L84.38,263.76 L84.69,263.45 L85.00,262.95 L85.31,262.28 L85.62,261.49 L85.93,260.60 L86.24,259.63 L86.55,258.62 L86.86,257.57 L87.18,256.50 L87.49,255.44 L87.80,254.39 L88.11,253.35 L88.42,252.35 L88.73,251.40 L89.04,250.51 L89.35,249.69 L89.66,248.97 L89.98,248.37 L90.29,247.91 L90.60,247.61 L90.91,247.51 L91.22,247.62 L91.53,247.96 L91.84,248.55 L92.15,249.40 L92.46,250.50 L92.78,251.85 L93.09,253.43 L93.40,255.20 L93.71,257.12 L94.02,259.15 L94.33,261.22 L94.64,263.26 L94.95,265.22 L95.26,267.02 L95.58,268.59 L95.89,269.88 L96.20,270.84 L96.51,271.43 L96.82,271.63 L97.13,271.43 L97.44,270.84 L97.75,269.88 L98.06,268.59 L98.38,267.01 L98.69,265.21 L99.00,263.26 L99.31,261.21 L99.62,259.13 L99.93,257.10 L100.24,255.17 L100.55,253.39 L100.86,251.79 L101.18,250.42 L101.49,249.29 L101.80,248.41 L102.11,247.76 L102.42,247.36 L102.73,247.17 L103.04,247.17 L103.35,247.33 L103.66,247.63 L103.98,248.04 L104.29,248.52 L104.60,249.05 L104.91,249.61 L105.22,250.17 L105.53,250.72 L105.84,251.25 L106.15,251.74 L106.46,252.19 L106.78,252.59 L107.09,252.95 L107.40,253.27 L107.71,253.53 L108.02,253.76 L108.33,253.95 L108.64,254.11 L108.95,254.24 L109.26,254.34 L109.58,254.43 L109.89,254.49 L110.20,254.54 L110.51,254.58 L110.82,254.61 L111.13,254.64 L111.44,254.65 L111.75,254.67 L112.06,254.68 L112.38,254.68 L112.69,254.69 L113.00,254.69 L113.31,254.69 L113.62,254.70 L113.93,254.70 L114.24,254.70 L114.55,254.70 L114.86,254.70 L115.17,254.70 L115.49,254.70 L115.80,254.70 L116.11,254.70 L116.42,254.70 L116.73,254.70 L117.04,254.71 L117.35,254.71 L117.66,254.71 L117.97,254.72 L118.29,254.72 L118.60,254.73 L118.91,254.75 L119.22,254.77 L119.53,254.79 L119.84,254.82 L120.15,254.87 L120.46,254.93 L120.77,255.01 L121.09,255.11 L121.40,255.24 L121.71,255.41 L122.02,255.61 L122.33,255.87 L122.64,256.18 L122.95,256.56 L123.26,257.00 L123.57,257.53 L123.89,258.14 L124.20,258.83 L124.51,259.61 L124.82,260.47 L125.13,261.40 L125.44,262.39 L125.75,263.40 L126.06,264.41 L126.37,265.38 L126.69,266.26 L127.00,267.00 L127.31,267.53 L127.62,267.80 L127.93,267.73 L128.24,267.26 L128.55,266.33 L128.86,264.89 L129.17,262.90 L129.49,260.34 L129.80,257.21 L130.11,253.55 L130.42,249.40 L130.73,244.85 L131.04,240.01 L131.35,235.01 L131.66,230.02 L131.97,225.22 L132.29,220.77 L132.60,216.89 L132.91,213.74 L133.22,211.49 L133.53,210.28 L133.84,210.22 L134.15,211.37 L134.46,213.75 L134.77,217.33 L135.09,222.04 L135.40,227.74 L135.71,234.27 L136.02,241.43 L136.33,248.97 L136.64,256.66 L136.95,264.23 L137.26,271.45 L137.57,278.07 L137.89,283.89 L138.20,288.76 L138.51,292.54 L138.82,295.15 L139.13,296.57 L139.44,296.82 L139.75,295.95 L140.06,294.07 L140.37,291.32 L140.69,287.84 L141.00,283.81 L141.31,279.41 L141.62,274.82 L141.93,270.20 L142.24,265.71 L142.55,261.46 L142.86,257.57 L143.17,254.12 L143.48,251.16 L143.80,248.71 L144.11,246.77 L144.42,245.34 L144.73,244.38 L145.04,243.85 L145.35,243.68 L145.66,243.82 L145.97,244.22 L146.28,244.80 L146.60,245.52 L146.91,246.33 L147.22,247.19 L147.53,248.05 L147.84,248.89 L148.15,249.69 L148.46,250.43 L148.77,251.11 L149.08,251.71 L149.40,252.24 L149.71,252.69 L150.02,253.08 L150.33,253.41 L150.64,253.68 L150.95,253.90 L151.26,254.08 L151.57,254.23 L151.88,254.34 L152.20,254.43 L152.51,254.50 L152.82,254.55 L153.13,254.59 L153.44,254.62 L153.75,254.64 L154.06,254.66 L154.37,254.67 L154.68,254.68 L155.00,254.69 L155.31,254.69 L155.62,254.69 L155.93,254.70 L156.24,254.70 L156.55,254.70 L156.86,254.70 L157.17,254.70 L157.48,254.70 L157.80,254.70 L158.11,254.70 L158.42,254.70 L158.73,254.70 L159.04,254.70 L159.35,254.70 L159.66,254.70 L159.97,254.70 L160.28,254.70 L160.60,254.71 L160.91,254.71 L161.22,254.71 L161.53,254.72 L161.84,254.73 L162.15,254.74 L162.46,254.76 L162.77,254.78 L163.08,254.81 L163.40,254.86 L163.71,254.91 L164.02,254.99 L164.33,255.09 L164.64,255.22 L164.95,255.38 L165.26,255.59 L165.57,255.85 L165.88,256.17 L166.20,256.57 L166.51,257.04 L166.82,257.61 L167.13,258.29 L167.44,259.07 L167.75,259.96 L168.06,260.98 L168.37,262.10 L168.68,263.33 L169.00,264.65 L169.31,266.02 L169.62,267.43 L169.93,268.83 L170.24,270.16 L170.55,271.36 L170.86,272.37 L171.17,273.12 L171.48,273.54 L171.80,273.54 L172.11,273.06 L172.42,272.04 L172.73,270.44 L173.04,268.22 L173.35,265.39 L173.66,261.96 L173.97,257.98 L174.28,253.53 L174.59,248.70 L174.91,243.62 L175.22,238.43 L175.53,233.31 L175.84,228.41 L176.15,223.92 L176.46,219.98 L176.77,216.75 L177.08,214.35 L177.39,212.87 L177.71,212.37 L178.02,212.87 L178.33,214.34 L178.64,216.75 L178.95,219.98 L179.26,223.91 L179.57,228.41 L179.88,233.30 L180.19,238.42 L180.51,243.59 L180.82,248.66 L181.13,253.48 L181.44,257.92 L181.75,261.87 L182.06,265.27 L182.37,268.05 L182.68,270.20 L182.99,271.73 L183.31,272.64 L183.62,272.99 L183.93,272.82 L184.24,272.20 L184.55,271.20 L184.86,269.87 L185.17,268.28 L185.48,266.49 L185.79,264.56 L186.11,262.53 L186.42,260.44 L186.73,258.31 L187.04,256.18 L187.35,254.07 L187.66,252.01 L187.97,250.01 L188.28,248.10 L188.59,246.31 L188.91,244.68 L189.22,243.24 L189.53,242.03 L189.84,241.11 L190.15,240.52 L190.46,240.31 L190.77,240.53 L191.08,241.22 L191.39,242.40 L191.71,244.10 L192.02,246.30 L192.33,249.00 L192.64,252.15 L192.95,255.70 L193.26,259.54 L193.57,263.59 L193.88,267.73 L194.19,271.83 L194.51,275.74 L194.82,279.33 L195.13,282.48 L195.44,285.06 L195.75,286.99 L196.06,288.17 L196.37,288.57 L196.68,288.17 L196.99,286.98 L197.31,285.06 L197.62,282.48 L197.93,279.33 L198.24,275.73 L198.55,271.81 L198.86,267.71 L199.17,263.57 L199.48,259.50 L199.79,255.64 L200.11,252.07 L200.42,248.89 L200.73,246.15 L201.04,243.88 L201.35,242.11 L201.66,240.83 L201.97,240.01 L202.28,239.63 L202.59,239.63 L202.91,239.96 L203.22,240.56 L203.53,241.37 L203.84,242.34 L204.15,243.40 L204.46,244.51 L204.77,245.64 L205.08,246.74 L205.39,247.80 L205.70,248.78 L206.02,249.68 L206.33,250.49 L206.64,251.21 L206.95,251.83 L207.26,252.37 L207.57,252.82 L207.88,253.21 L208.19,253.52 L208.50,253.78 L208.82,253.99 L209.13,254.15 L209.44,254.29 L209.75,254.39 L210.06,254.47 L210.37,254.53 L210.68,254.57 L210.99,254.61 L211.30,254.63 L211.62,254.65 L211.93,254.67 L212.24,254.68 L212.55,254.68 L212.86,254.69 L213.17,254.69 L213.48,254.69 L213.79,254.70 L214.10,254.70 L214.42,254.70 L214.73,254.70 L215.04,254.70 L215.35,254.70 L215.66,254.70 L215.97,254.70 L216.28,254.70 L216.59,254.70 L216.90,254.70 L217.22,254.70 L217.53,254.70 L217.84,254.70 L218.15,254.70 L218.46,254.70 L218.77,254.70 L219.08,254.70 L219.39,254.70 L219.70,254.70 L220.02,254.70 L220.33,254.70 L220.64,254.70 L220.95,254.70 L221.26,254.70 L221.57,254.70 L221.88,254.70 L222.19,254.70 L222.50,254.70 L222.82,254.70 L223.13,254.70 L223.44,254.70 L223.75,254.70 L224.06,254.70 L224.37,254.70 L224.68,254.71 L224.99,254.71 L225.30,254.71 L225.62,254.72 L225.93,254.73 L226.24,254.74 L226.55,254.76 L226.86,254.78 L227.17,254.81 L227.48,254.85 L227.79,254.90 L228.10,254.97 L228.42,255.06 L228.73,255.18 L229.04,255.32 L229.35,255.50 L229.66,255.73 L229.97,256.01 L230.28,256.34 L230.59,256.74 L230.90,257.21 L231.22,257.76 L231.53,258.39 L231.84,259.09 L232.15,259.88 L232.46,260.74 L232.77,261.66 L233.08,262.63 L233.39,263.61 L233.70,264.59 L234.02,265.52 L234.33,266.36 L234.64,267.07 L234.95,267.59 L235.26,267.88 L235.57,267.88 L235.88,267.54 L236.19,266.82 L236.50,265.69 L236.81,264.13 L237.13,262.14 L237.44,259.72 L237.75,256.91 L238.06,253.75 L238.37,250.32 L238.68,246.71 L238.99,243.00 L239.30,239.32 L239.61,235.77 L239.93,232.46 L240.24,229.51 L240.55,227.01 L240.86,225.05 L241.17,223.67 L241.48,222.91 L241.79,222.80 L242.10,223.29 L242.41,224.37 L242.73,225.95 L243.04,227.97 L243.35,230.33 L243.66,232.93 L243.97,235.67 L244.28,238.47 L244.59,241.22 L244.90,243.88 L245.21,246.39 L245.53,248.73 L245.84,250.88 L246.15,252.86 L246.46,254.70 L246.77,256.43 L247.08,258.11 L247.39,259.77 L247.70,261.47 L248.01,263.24 L248.33,265.10 L248.64,267.07 L248.95,269.12 L249.26,271.24 L249.57,273.37 L249.88,275.46 L250.19,277.44 L250.50,279.21 L250.81,280.72 L251.13,281.87 L251.44,282.60 L251.75,282.87 L252.06,282.62 L252.37,281.86 L252.68,280.58 L252.99,278.81 L253.30,276.61 L253.61,274.05 L253.93,271.19 L254.24,268.14 L254.55,265.00 L254.86,261.85 L255.17,258.81 L255.48,255.95 L255.79,253.36 L256.10,251.08 L256.41,249.18 L256.73,247.68 L257.04,246.60 L257.35,245.93 L257.66,245.67 L257.97,245.78 L258.28,246.23 L258.59,246.98 L258.90,247.98 L259.21,249.18 L259.53,250.52 L259.84,251.95 L260.15,253.42 L260.46,254.86 L260.77,256.23 L261.08,257.47 L261.39,258.55 L261.70,259.41 L262.01,260.02 L262.33,260.34 L262.64,260.35 L262.95,260.03 L263.26,259.38 L263.57,258.39 L263.88,257.09 L264.19,255.49 L264.50,253.64 L264.81,251.59 L265.13,249.40 L265.44,247.15 L265.75,244.90 L266.06,242.74 L266.37,240.75 L266.68,239.01 L266.99,237.57 L267.30,236.51 L267.61,235.85 L267.93,235.63 L268.24,235.86 L268.55,236.53 L268.86,237.62 L269.17,239.07 L269.48,240.84 L269.79,242.87 L270.10,245.07 L270.41,247.38 L270.72,249.71 L271.04,252.00 L271.35,254.17 L271.66,256.18 L271.97,257.97 L272.28,259.51 L272.59,260.79 L272.90,261.78 L273.21,262.50 L273.52,262.96 L273.84,263.18 L274.15,263.18 L274.46,262.99 L274.77,262.65 L275.08,262.20 L275.39,261.66 L275.70,261.06 L276.01,260.43 L276.32,259.80 L276.64,259.18 L276.95,258.58 L277.26,258.03 L277.57,257.52 L277.88,257.07 L278.19,256.67 L278.50,256.31 L278.81,256.01 L279.12,255.75 L279.44,255.54 L279.75,255.36 L280.06,255.22 L280.37,255.10 L280.68,255.01 L280.99,254.93 L281.30,254.88 L281.61,254.83 L281.92,254.80 L282.24,254.77 L282.55,254.75 L282.86,254.74 L283.17,254.73 L283.48,254.72 L283.79,254.71 L284.10,254.71 L284.41,254.71 L284.72,254.70 L285.04,254.70 L285.35,254.70 L285.66,254.70 L285.97,254.70 L286.28,254.70 L286.59,254.70 L286.90,254.70 L287.21,254.70 L287.52,254.70 L287.84,254.70 L288.15,254.70 L288.46,254.70 L288.77,254.70 L289.08,254.70 L289.39,254.70 L289.70,254.70 L290.01,254.70 L290.32,254.70 L290.64,254.70 L290.95,254.70 L291.26,254.70 L291.57,254.70 L291.88,254.70 L292.19,254.70 L292.50,254.70 L292.81,254.70 L293.12,254.70 L293.44,254.70 L293.75,254.70 L294.06,254.70 L294.37,254.70 L294.68,254.70 L294.99,254.70 L295.30,254.70 L295.61,254.70 L295.92,254.70 L296.24,254.70 L296.55,254.70 L296.86,254.70 L297.17,254.70 L297.48,254.70 L297.79,254.70 L298.10,254.70 L298.41,254.71 L298.72,254.71 L299.03,254.71 L299.35,254.72 L299.66,254.72 L299.97,254.73 L300.28,254.75 L300.59,254.76 L300.90,254.79 L301.21,254.82 L301.52,254.86 L301.83,254.90 L302.15,254.97 L302.46,255.04 L302.77,255.14 L303.08,255.26 L303.39,255.40 L303.70,255.57 L304.01,255.78 L304.32,256.01 L304.63,256.28 L304.95,256.58 L305.26,256.92 L305.57,257.29 L305.88,257.68 L306.19,258.10 L306.50,258.52 L306.81,258.94 L307.12,259.34 L307.43,259.70 L307.75,260.00 L308.06,260.23 L308.37,260.35 L308.68,260.35 L308.99,260.21 L309.30,259.90 L309.61,259.42 L309.92,258.76 L310.23,257.91 L310.55,256.88 L310.86,255.69 L311.17,254.35 L311.48,252.90 L311.79,251.38 L312.10,249.82 L312.41,248.28 L312.72,246.81 L313.03,245.46 L313.35,244.28 L313.66,243.31 L313.97,242.59 L314.28,242.15 L314.59,242.00 L314.90,242.15 L315.21,242.59 L315.52,243.31 L315.83,244.28 L316.15,245.46 L316.46,246.81 L316.77,248.28 L317.08,249.82 L317.39,251.38 L317.70,252.90 L318.01,254.35 L318.32,255.69 L318.63,256.88 L318.95,257.91 L319.26,258.76 L319.57,259.42 L319.88,259.90 L320.19,260.21 L320.50,260.35 L320.81,260.35 L321.12,260.23 L321.43,260.00 L321.75,259.70 L322.06,259.34 L322.37,258.94 L322.68,258.52 L322.99,258.10 L323.30,257.68 L323.61,257.29 L323.92,256.92 L324.23,256.58 L324.55,256.28 L324.86,256.01 L325.17,255.78 L325.48,255.57 L325.79,255.40 L326.10,255.26 L326.41,255.14 L326.72,255.04 L327.03,254.97 L327.35,254.90 L327.66,254.86 L327.97,254.82 L328.28,254.79 L328.59,254.76 L328.90,254.75 L329.21,254.73 L329.52,254.72 L329.83,254.72 L330.14,254.71 L330.46,254.71 L330.77,254.71 L331.08,254.70 L331.39,254.70 L331.70,254.70 L332.01,254.70 L332.32,254.70 L332.63,254.70 L332.94,254.70 L333.26,254.70 L333.57,254.70 L333.88,254.70 L334.19,254.70 L334.50,254.70 L334.81,254.70 L335.12,254.70 L335.43,254.70 L335.74,254.70 L336.06,254.70 L336.37,254.70 L336.68,254.70 L336.99,254.70 L337.30,254.70 L337.61,254.70 L337.92,254.70 L338.23,254.70 L338.54,254.70 L338.86,254.70 L339.17,254.70 L339.48,254.70 L339.79,254.70 L340.10,254.70 L340.41,254.70 L340.72,254.70 L341.03,254.70 L341.34,254.70 L341.66,254.70 L341.97,254.70 L342.28,254.70 L342.59,254.70 L342.90,254.70 L343.21,254.70 L343.52,254.70 L343.83,254.70 L344.14,254.70 L344.46,254.70 L344.77,254.70 L345.08,254.70 L345.39,254.70" fill="none" stroke="#000" stroke-width="1.18" stroke-linejoin="round" clip-path="url(#cpc)"/>
<path d="M34.60,254.70 L345.39,254.70 M78.15,254.70 L78.15,233.53 M96.82,254.70 L96.82,271.63 M134.15,254.70 L134.15,220.83 M138.82,254.70 L138.82,284.33 M177.71,254.70 L177.71,212.37 M196.37,254.70 L196.37,288.57 M241.48,254.70 L241.48,225.07 M252.06,254.70 L252.06,280.10 M267.93,254.70 L267.93,235.65 M314.59,254.70 L314.59,242.00" fill="none" stroke="#ff00ff" stroke-width="1.18" clip-path="url(#cpc)"/>
<path d="M34.60,254.68 L34.91,254.68 L35.22,254.68 L35.53,254.68 L35.84,254.69 L36.16,254.69 L36.47,254.69 L36.78,254.69 L37.09,254.69 L37.40,254.69 L37.71,254.69 L38.02,254.69 L38.33,254.70 L38.64,254.70 L38.96,254.70 L39.27,254.70 L39.58,254.70 L39.89,254.70 L40.20,254.70 L40.51,254.70 L40.82,254.70 L41.13,254.69 L41.44,254.69 L41.76,254.69 L42.07,254.69 L42.38,254.69 L42.69,254.69 L43.00,254.69 L43.31,254.69 L43.62,254.68 L43.93,254.68 L44.24,254.68 L44.56,254.68 L44.87,254.68 L45.18,254.68 L45.49,254.68 L45.80,254.67 L46.11,254.67 L46.42,254.67 L46.73,254.67 L47.04,254.67 L47.36,254.67 L47.67,254.66 L47.98,254.66 L48.29,254.66 L48.60,254.66 L48.91,254.66 L49.22,254.65 L49.53,254.65 L49.84,254.65 L50.16,254.65 L50.47,254.64 L50.78,254.64 L51.09,254.64 L51.40,254.64 L51.71,254.63 L52.02,254.63 L52.33,254.63 L52.64,254.62 L52.95,254.62 L53.27,254.61 L53.58,254.61 L53.89,254.60 L54.20,254.60 L54.51,254.59 L54.82,254.59 L55.13,254.58 L55.44,254.58 L55.75,254.57 L56.07,254.56 L56.38,254.56 L56.69,254.55 L57.00,254.54 L57.31,254.53 L57.62,254.52 L57.93,254.51 L58.24,254.50 L58.55,254.48 L58.87,254.47 L59.18,254.45 L59.49,254.44 L59.80,254.42 L60.11,254.40 L60.42,254.38 L60.73,254.35 L61.04,254.33 L61.35,254.30 L61.67,254.26 L61.98,254.22 L62.29,254.18 L62.60,254.13 L62.91,254.08 L63.22,254.02 L63.53,253.95 L63.84,253.87 L64.15,253.78 L64.47,253.69 L64.78,253.57 L65.09,253.45 L65.40,253.30 L65.71,253.14 L66.02,252.97 L66.33,252.77 L66.64,252.54 L66.95,252.30 L67.27,252.02 L67.58,251.72 L67.89,251.39 L68.20,251.03 L68.51,250.64 L68.82,250.22 L69.13,249.76 L69.44,249.27 L69.75,248.75 L70.07,248.19 L70.38,247.59 L70.69,246.97 L71.00,246.32 L71.31,245.64 L71.62,244.94 L71.93,244.21 L72.24,243.47 L72.55,242.71 L72.87,241.95 L73.18,241.18 L73.49,240.41 L73.80,239.66 L74.11,238.92 L74.42,238.20 L74.73,237.52 L75.04,236.86 L75.35,236.25 L75.67,235.69 L75.98,235.18 L76.29,234.73 L76.60,234.35 L76.91,234.03 L77.22,233.79 L77.53,233.63 L77.84,233.54 L78.15,233.53 L78.47,234.63 L78.78,235.79 L79.09,237.01 L79.40,238.26 L79.71,239.54 L80.02,240.82 L80.33,242.10 L80.64,243.37 L80.95,244.60 L81.26,245.80 L81.58,246.95 L81.89,248.04 L82.20,249.06 L82.51,250.02 L82.82,250.90 L83.13,251.71 L83.44,252.43 L83.75,253.08 L84.06,253.66 L84.38,254.16 L84.69,254.59 L85.00,254.95 L85.31,255.26 L85.62,255.51 L85.93,255.71 L86.24,255.88 L86.55,256.01 L86.86,256.13 L87.18,256.24 L87.49,256.36 L87.80,256.49 L88.11,256.65 L88.42,256.86 L88.73,257.11 L89.04,257.41 L89.35,257.77 L89.66,258.19 L89.98,258.66 L90.29,259.18 L90.60,259.75 L90.91,260.37 L91.22,261.03 L91.53,261.72 L91.84,262.45 L92.15,263.20 L92.46,263.96 L92.78,264.74 L93.09,265.52 L93.40,266.29 L93.71,267.04 L94.02,267.76 L94.33,268.45 L94.64,269.09 L94.95,269.67 L95.26,270.19 L95.58,270.65 L95.89,271.02 L96.20,271.31 L96.51,271.51 L96.82,271.62 L97.13,271.64 L97.44,271.57 L97.75,271.43 L98.06,271.21 L98.38,270.92 L98.69,270.57 L99.00,270.15 L99.31,269.68 L99.62,269.15 L99.93,268.59 L100.24,267.98 L100.55,267.35 L100.86,266.70 L101.18,266.03 L101.49,265.36 L101.80,264.68 L102.11,264.01 L102.42,263.34 L102.73,262.69 L103.04,262.06 L103.35,261.45 L103.66,260.87 L103.98,260.32 L104.29,259.80 L104.60,259.31 L104.91,258.85 L105.22,258.42 L105.53,258.03 L105.84,257.66 L106.15,257.33 L106.46,257.03 L106.78,256.76 L107.09,256.52 L107.40,256.30 L107.71,256.10 L108.02,255.93 L108.33,255.77 L108.64,255.64 L108.95,255.52 L109.26,255.41 L109.58,255.32 L109.89,255.24 L110.20,255.18 L110.51,255.12 L110.82,255.07 L111.13,255.02 L111.44,254.98 L111.75,254.95 L112.06,254.92 L112.38,254.89 L112.69,254.87 L113.00,254.85 L113.31,254.84 L113.62,254.82 L113.93,254.81 L114.24,254.79 L114.55,254.78 L114.86,254.77 L115.17,254.76 L115.49,254.75 L115.80,254.74 L116.11,254.72 L116.42,254.71 L116.73,254.70 L117.04,254.69 L117.35,254.67 L117.66,254.65 L117.97,254.64 L118.29,254.61 L118.60,254.59 L118.91,254.56 L119.22,254.53 L119.53,254.49 L119.84,254.44 L120.15,254.38 L120.46,254.32 L120.77,254.24 L121.09,254.15 L121.40,254.05 L121.71,253.92 L122.02,253.78 L122.33,253.61 L122.64,253.41 L122.95,253.18 L123.26,252.92 L123.57,252.62 L123.89,252.27 L124.20,251.88 L124.51,251.44 L124.82,250.94 L125.13,250.38 L125.44,249.75 L125.75,249.05 L126.06,248.28 L126.37,247.44 L126.69,246.51 L127.00,245.50 L127.31,244.40 L127.62,243.22 L127.93,241.96 L128.24,240.60 L128.55,239.17 L128.86,237.65 L129.17,236.07 L129.49,234.41 L129.80,232.69 L130.11,230.91 L130.42,229.10 L130.73,227.25 L131.04,225.38 L131.35,223.50 L131.66,221.63 L131.97,219.79 L132.29,217.98 L132.60,216.22 L132.91,214.53 L133.22,212.93 L133.53,211.43 L133.84,210.05 L134.15,208.80 L134.46,207.69 L134.77,206.73 L135.09,205.94 L135.40,205.33 L135.71,204.89 L136.02,204.65 L136.33,204.59 L136.64,204.71 L136.95,204.98 L137.26,205.40 L137.57,205.96 L137.89,206.67 L138.20,207.51 L138.51,208.48 L138.82,209.57 L139.13,210.76 L139.44,212.06 L139.75,213.45 L140.06,214.91 L140.37,216.44 L140.69,218.03 L141.00,219.65 L141.31,221.31 L141.62,222.99 L141.93,224.67 L142.24,226.36 L142.55,228.03 L142.86,229.68 L143.17,231.29 L143.48,232.87 L143.80,234.41 L144.11,235.89 L144.42,237.32 L144.73,238.68 L145.04,239.98 L145.35,241.21 L145.66,242.38 L145.97,243.47 L146.28,244.49 L146.60,245.45 L146.91,246.33 L147.22,247.15 L147.53,247.90 L147.84,248.59 L148.15,249.22 L148.46,249.80 L148.77,250.32 L149.08,250.79 L149.40,251.21 L149.71,251.59 L150.02,251.92 L150.33,252.22 L150.64,252.49 L150.95,252.73 L151.26,252.93 L151.57,253.12 L151.88,253.28 L152.20,253.41 L152.51,253.53 L152.82,253.64 L153.13,253.73 L153.44,253.80 L153.75,253.87 L154.06,253.92 L154.37,253.97 L154.68,254.01 L155.00,254.04 L155.31,254.06 L155.62,254.08 L155.93,254.10 L156.24,254.11 L156.55,254.11 L156.86,254.12 L157.17,254.11 L157.48,254.11 L157.80,254.10 L158.11,254.09 L158.42,254.07 L158.73,254.05 L159.04,254.03 L159.35,254.00 L159.66,253.97 L159.97,253.94 L160.28,253.89 L160.60,253.85 L160.91,253.79 L161.22,253.73 L161.53,253.66 L161.84,253.58 L162.15,253.49 L162.46,253.39 L162.77,253.27 L163.08,253.13 L163.40,252.98 L163.71,252.81 L164.02,252.61 L164.33,252.39 L164.64,252.14 L164.95,251.86 L165.26,251.55 L165.57,251.19 L165.88,250.79 L166.20,250.35 L166.51,249.86 L166.82,249.32 L167.13,248.72 L167.44,248.06 L167.75,247.35 L168.06,246.57 L168.37,245.72 L168.68,244.81 L169.00,243.83 L169.31,242.78 L169.62,241.67 L169.93,240.49 L170.24,239.24 L170.55,237.94 L170.86,236.58 L171.17,235.18 L171.48,233.73 L171.80,232.24 L172.11,230.73 L172.42,229.20 L172.73,227.67 L173.04,226.14 L173.35,224.63 L173.66,223.15 L173.97,221.72 L174.28,220.34 L174.59,219.04 L174.91,217.81 L175.22,216.69 L175.53,215.67 L175.84,214.77 L176.15,214.00 L176.46,213.37 L176.77,212.89 L177.08,212.56 L177.39,212.38 L177.71,212.36 L178.02,212.57 L178.33,213.07 L178.64,213.85 L178.95,214.88 L179.26,216.15 L179.57,217.64 L179.88,219.31 L180.19,221.14 L180.51,223.11 L180.82,225.17 L181.13,227.29 L181.44,229.46 L181.75,231.63 L182.06,233.79 L182.37,235.90 L182.68,237.94 L182.99,239.90 L183.31,241.76 L183.62,243.51 L183.93,245.13 L184.24,246.62 L184.55,247.97 L184.86,249.19 L185.17,250.28 L185.48,251.24 L185.79,252.07 L186.11,252.80 L186.42,253.43 L186.73,253.98 L187.04,254.47 L187.35,254.93 L187.66,255.38 L187.97,255.85 L188.28,256.37 L188.59,256.96 L188.91,257.63 L189.22,258.40 L189.53,259.28 L189.84,260.28 L190.15,261.39 L190.46,262.61 L190.77,263.94 L191.08,265.38 L191.39,266.91 L191.71,268.53 L192.02,270.21 L192.33,271.93 L192.64,273.69 L192.95,275.46 L193.26,277.21 L193.57,278.92 L193.88,280.56 L194.19,282.12 L194.51,283.56 L194.82,284.85 L195.13,285.99 L195.44,286.94 L195.75,287.68 L196.06,288.22 L196.37,288.52 L196.68,288.59 L196.99,288.46 L197.31,288.18 L197.62,287.76 L197.93,287.21 L198.24,286.53 L198.55,285.72 L198.86,284.81 L199.17,283.80 L199.48,282.71 L199.79,281.54 L200.11,280.32 L200.42,279.05 L200.73,277.74 L201.04,276.42 L201.35,275.09 L201.66,273.77 L201.97,272.46 L202.28,271.18 L202.59,269.93 L202.91,268.72 L203.22,267.56 L203.53,266.45 L203.84,265.40 L204.15,264.40 L204.46,263.47 L204.77,262.60 L205.08,261.80 L205.39,261.05 L205.70,260.37 L206.02,259.75 L206.33,259.18 L206.64,258.67 L206.95,258.20 L207.26,257.79 L207.57,257.42 L207.88,257.09 L208.19,256.80 L208.50,256.54 L208.82,256.31 L209.13,256.11 L209.44,255.94 L209.75,255.78 L210.06,255.65 L210.37,255.53 L210.68,255.43 L210.99,255.35 L211.30,255.27 L211.62,255.20 L211.93,255.15 L212.24,255.09 L212.55,255.05 L212.86,255.01 L213.17,254.98 L213.48,254.95 L213.79,254.92 L214.10,254.90 L214.42,254.88 L214.73,254.86 L215.04,254.84 L215.35,254.82 L215.66,254.81 L215.97,254.80 L216.28,254.78 L216.59,254.77 L216.90,254.76 L217.22,254.75 L217.53,254.74 L217.84,254.74 L218.15,254.73 L218.46,254.72 L218.77,254.71 L219.08,254.70 L219.39,254.70 L219.70,254.69 L220.02,254.68 L220.33,254.67 L220.64,254.67 L220.95,254.66 L221.26,254.65 L221.57,254.64 L221.88,254.63 L222.19,254.62 L222.50,254.61 L222.82,254.59 L223.13,254.58 L223.44,254.56 L223.75,254.55 L224.06,254.53 L224.37,254.51 L224.68,254.48 L224.99,254.45 L225.30,254.42 L225.62,254.39 L225.93,254.35 L226.24,254.30 L226.55,254.24 L226.86,254.18 L227.17,254.11 L227.48,254.03 L227.79,253.93 L228.10,253.82 L228.42,253.70 L228.73,253.55 L229.04,253.39 L229.35,253.20 L229.66,252.98 L229.97,252.74 L230.28,252.46 L230.59,252.15 L230.90,251.80 L231.22,251.41 L231.53,250.97 L231.84,250.49 L232.15,249.96 L232.46,249.37 L232.77,248.73 L233.08,248.03 L233.39,247.27 L233.70,246.46 L234.02,245.59 L234.33,244.66 L234.64,243.68 L234.95,242.64 L235.26,241.55 L235.57,240.42 L235.88,239.26 L236.19,238.06 L236.50,236.84 L236.81,235.60 L237.13,234.36 L237.44,233.13 L237.75,231.91 L238.06,230.72 L238.37,229.57 L238.68,228.48 L238.99,227.45 L239.30,226.50 L239.61,225.63 L239.93,224.87 L240.24,224.21 L240.55,223.67 L240.86,223.25 L241.17,222.96 L241.48,222.80 L241.79,222.77 L242.10,223.05 L242.41,223.78 L242.73,224.92 L243.04,226.43 L243.35,228.25 L243.66,230.33 L243.97,232.61 L244.28,235.03 L244.59,237.54 L244.90,240.09 L245.21,242.64 L245.53,245.16 L245.84,247.64 L246.15,250.05 L246.46,252.40 L246.77,254.70 L247.08,256.96 L247.39,259.21 L247.70,261.44 L248.01,263.68 L248.33,265.93 L248.64,268.17 L248.95,270.39 L249.26,272.57 L249.57,274.65 L249.88,276.61 L250.19,278.38 L250.50,279.93 L250.81,281.19 L251.13,282.13 L251.44,282.71 L251.75,282.87 L252.06,282.71 L252.37,282.34 L252.68,281.74 L252.99,280.95 L253.30,279.98 L253.61,278.83 L253.93,277.55 L254.24,276.14 L254.55,274.63 L254.86,273.06 L255.17,271.44 L255.48,269.80 L255.79,268.16 L256.10,266.55 L256.41,264.99 L256.73,263.49 L257.04,262.08 L257.35,260.77 L257.66,259.57 L257.97,258.49 L258.28,257.53 L258.59,256.71 L258.90,256.03 L259.21,255.48 L259.53,255.07 L259.84,254.79 L260.15,254.63 L260.46,254.53 L260.77,254.39 L261.08,254.13 L261.39,253.73 L261.70,253.21 L262.01,252.57 L262.33,251.82 L262.64,250.98 L262.95,250.05 L263.26,249.05 L263.57,247.98 L263.88,246.87 L264.19,245.72 L264.50,244.56 L264.81,243.39 L265.13,242.25 L265.44,241.15 L265.75,240.10 L266.06,239.12 L266.37,238.24 L266.68,237.46 L266.99,236.80 L267.30,236.27 L267.61,235.89 L267.93,235.67 L268.24,235.59 L268.55,235.64 L268.86,235.77 L269.17,235.97 L269.48,236.24 L269.79,236.58 L270.10,236.99 L270.41,237.44 L270.72,237.96 L271.04,238.51 L271.35,239.11 L271.66,239.74 L271.97,240.39 L272.28,241.07 L272.59,241.76 L272.90,242.46 L273.21,243.16 L273.52,243.86 L273.84,244.55 L274.15,245.23 L274.46,245.89 L274.77,246.53 L275.08,247.15 L275.39,247.74 L275.70,248.31 L276.01,248.85 L276.32,249.36 L276.64,249.83 L276.95,250.28 L277.26,250.69 L277.57,251.08 L277.88,251.43 L278.19,251.76 L278.50,252.05 L278.81,252.32 L279.12,252.57 L279.44,252.79 L279.75,252.99 L280.06,253.17 L280.37,253.33 L280.68,253.48 L280.99,253.61 L281.30,253.72 L281.61,253.82 L281.92,253.91 L282.24,253.99 L282.55,254.06 L282.86,254.12 L283.17,254.18 L283.48,254.23 L283.79,254.27 L284.10,254.31 L284.41,254.34 L284.72,254.37 L285.04,254.40 L285.35,254.43 L285.66,254.45 L285.97,254.47 L286.28,254.49 L286.59,254.51 L286.90,254.52 L287.21,254.54 L287.52,254.55 L287.84,254.57 L288.15,254.58 L288.46,254.59 L288.77,254.60 L289.08,254.61 L289.39,254.62 L289.70,254.63 L290.01,254.64 L290.32,254.65 L290.64,254.66 L290.95,254.67 L291.26,254.68 L291.57,254.68 L291.88,254.69 L292.19,254.70 L292.50,254.69 L292.81,254.68 L293.12,254.67 L293.44,254.67 L293.75,254.66 L294.06,254.65 L294.37,254.64 L294.68,254.63 L294.99,254.62 L295.30,254.61 L295.61,254.59 L295.92,254.58 L296.24,254.57 L296.55,254.55 L296.86,254.54 L297.17,254.52 L297.48,254.50 L297.79,254.48 L298.10,254.46 L298.41,254.44 L298.72,254.41 L299.03,254.38 L299.35,254.34 L299.66,254.31 L299.97,254.26 L300.28,254.22 L300.59,254.16 L300.90,254.10 L301.21,254.03 L301.52,253.95 L301.83,253.87 L302.15,253.77 L302.46,253.66 L302.77,253.54 L303.08,253.40 L303.39,253.25 L303.70,253.09 L304.01,252.91 L304.32,252.71 L304.63,252.49 L304.95,252.26 L305.26,252.00 L305.57,251.73 L305.88,251.43 L306.19,251.12 L306.50,250.79 L306.81,250.43 L307.12,250.06 L307.43,249.67 L307.75,249.27 L308.06,248.85 L308.37,248.42 L308.68,247.98 L308.99,247.53 L309.30,247.08 L309.61,246.63 L309.92,246.17 L310.23,245.73 L310.55,245.29 L310.86,244.86 L311.17,244.45 L311.48,244.06 L311.79,243.70 L312.10,243.36 L312.41,243.06 L312.72,242.78 L313.03,242.55 L313.35,242.35 L313.66,242.20 L313.97,242.09 L314.28,242.02 L314.59,242.00 L314.90,242.02 L315.21,242.09 L315.52,242.21 L315.83,242.36 L316.15,242.56 L316.46,242.80 L316.77,243.07 L317.08,243.38 L317.39,243.72 L317.70,244.08 L318.01,244.47 L318.32,244.88 L318.63,245.30 L318.95,245.74 L319.26,246.19 L319.57,246.64 L319.88,247.09 L320.19,247.54 L320.50,247.99 L320.81,248.43 L321.12,248.86 L321.43,249.27 L321.75,249.68 L322.06,250.06 L322.37,250.43 L322.68,250.78 L322.99,251.11 L323.30,251.43 L323.61,251.72 L323.92,251.99 L324.23,252.24 L324.55,252.48 L324.86,252.69 L325.17,252.89 L325.48,253.07 L325.79,253.23 L326.10,253.38 L326.41,253.51 L326.72,253.63 L327.03,253.74 L327.35,253.84 L327.66,253.92 L327.97,254.00 L328.28,254.07 L328.59,254.13 L328.90,254.18 L329.21,254.23 L329.52,254.27 L329.83,254.31 L330.14,254.34 L330.46,254.37 L330.77,254.40 L331.08,254.42 L331.39,254.44 L331.70,254.46 L332.01,254.48 L332.32,254.49 L332.63,254.50 L332.94,254.52 L333.26,254.53 L333.57,254.54 L333.88,254.55 L334.19,254.56 L334.50,254.57 L334.81,254.57 L335.12,254.58 L335.43,254.59 L335.74,254.59 L336.06,254.60 L336.37,254.60 L336.68,254.61 L336.99,254.61 L337.30,254.62 L337.61,254.62 L337.92,254.63 L338.23,254.63 L338.54,254.63 L338.86,254.64 L339.17,254.64 L339.48,254.64 L339.79,254.64 L340.10,254.65 L340.41,254.65 L340.72,254.65 L341.03,254.65 L341.34,254.66 L341.66,254.66 L341.97,254.66 L342.28,254.66 L342.59,254.67 L342.90,254.67 L343.21,254.67 L343.52,254.67 L343.83,254.67 L344.14,254.67 L344.46,254.68 L344.77,254.68 L345.08,254.68 L345.39,254.68" fill="none" stroke="#ff0000" stroke-width="1.18" stroke-linejoin="round" clip-path="url(#cpc)"/>
<rect x="84.60" y="237.40" width="27.20" height="45.00" stroke="#5a5a5a" stroke-width="1.05" stroke-dasharray="5.9,3.1" fill="none" clip-path="url(#cpc)"/>
<rect x="185.60" y="226.20" width="26.10" height="67.00" stroke="#5a5a5a" stroke-width="1.05" stroke-dasharray="5.9,3.1" fill="none" clip-path="url(#cpc)"/>
<rect x="246.60" y="225.80" width="16.60" height="63.70" stroke="#5a5a5a" stroke-width="1.05" stroke-dasharray="5.9,3.1" fill="none" clip-path="url(#cpc)"/>
<path d="M149.80,250.90 L149.80,249.85 L149.79,248.81 L149.78,247.76 L149.77,246.71 L149.75,245.67 L149.73,244.63 L149.71,243.59 L149.68,242.55 L149.65,241.51 L149.61,240.48 L149.58,239.45 L149.53,238.43 L149.49,237.40 L149.44,236.38 L149.38,235.37 L149.33,234.36 L149.27,233.36 L149.20,232.36 L149.14,231.37 L149.06,230.38 L148.99,229.40 L148.91,228.42 L148.83,227.46 L148.75,226.50 L148.66,225.54 L148.57,224.60 L148.47,223.66 L148.37,222.73 L148.27,221.81 L148.17,220.90 L148.06,220.00 L147.95,219.10 L147.83,218.22 L147.71,217.35 L147.59,216.49 L147.47,215.63 L147.34,214.79 L147.21,213.96 L147.08,213.14 L146.95,212.33 L146.81,211.54 L146.67,210.75 L146.52,209.98 L146.38,209.22 L146.23,208.47 L146.07,207.74 L145.92,207.02 L145.76,206.31 L145.60,205.62 L145.44,204.94 L145.28,204.27 L145.11,203.62 L144.94,202.98 L144.77,202.36 L144.60,201.75 L144.42,201.16 L144.24,200.58 L144.07,200.02 L143.88,199.47 L143.70,198.94 L143.51,198.42 L143.33,197.92 L143.14,197.44 L142.95,196.97 L142.76,196.52 L142.56,196.09 L142.37,195.67 L142.17,195.27 L141.97,194.89 L141.77,194.52 L141.57,194.17 L141.37,193.84 L141.17,193.52 L140.96,193.22 L140.76,192.94 L140.55,192.68 L140.34,192.44 L140.14,192.21 L139.93,192.00 L139.72,191.81 L139.51,191.64 L139.30,191.48 L139.09,191.35 L138.88,191.23 L138.66,191.13 L138.45,191.05 L138.24,190.98 L138.03,190.94 L137.81,190.91 L137.60,190.90 L137.39,190.91 L137.17,190.94 L136.96,190.98 L136.75,191.05 L136.54,191.13 L136.32,191.23 L136.11,191.35 L135.90,191.48 L135.69,191.64 L135.48,191.81 L135.27,192.00 L135.06,192.21 L134.86,192.44 L134.65,192.68 L134.44,192.94 L134.24,193.22 L134.03,193.52 L133.83,193.84 L133.63,194.17 L133.43,194.52 L133.23,194.89 L133.03,195.27 L132.83,195.67 L132.64,196.09 L132.44,196.52 L132.25,196.97 L132.06,197.44 L131.87,197.92 L131.69,198.42 L131.50,198.94 L131.32,199.47 L131.13,200.02 L130.96,200.58 L130.78,201.16 L130.60,201.75 L130.43,202.36 L130.26,202.98 L130.09,203.62 L129.92,204.27 L129.76,204.94 L129.60,205.62 L129.44,206.31 L129.28,207.02 L129.13,207.74 L128.97,208.47 L128.82,209.22 L128.68,209.98 L128.53,210.75 L128.39,211.54 L128.25,212.33 L128.12,213.14 L127.99,213.96 L127.86,214.79 L127.73,215.63 L127.61,216.49 L127.49,217.35 L127.37,218.22 L127.25,219.10 L127.14,220.00 L127.03,220.90 L126.93,221.81 L126.83,222.73 L126.73,223.66 L126.63,224.60 L126.54,225.54 L126.45,226.50 L126.37,227.46 L126.29,228.42 L126.21,229.40 L126.14,230.38 L126.06,231.37 L126.00,232.36 L125.93,233.36 L125.87,234.36 L125.82,235.37 L125.76,236.38 L125.71,237.40 L125.67,238.43 L125.62,239.45 L125.59,240.48 L125.55,241.51 L125.52,242.55 L125.49,243.59 L125.47,244.63 L125.45,245.67 L125.43,246.71 L125.42,247.76 L125.41,248.81 L125.40,249.85 L125.40,250.90 L125.40,251.95 L125.41,252.99 L125.42,254.04 L125.43,255.09 L125.45,256.13 L125.47,257.17 L125.49,258.21 L125.52,259.25 L125.55,260.29 L125.59,261.32 L125.62,262.35 L125.67,263.37 L125.71,264.40 L125.76,265.42 L125.82,266.43 L125.87,267.44 L125.93,268.44 L126.00,269.44 L126.06,270.43 L126.14,271.42 L126.21,272.40 L126.29,273.38 L126.37,274.34 L126.45,275.30 L126.54,276.26 L126.63,277.20 L126.73,278.14 L126.83,279.07 L126.93,279.99 L127.03,280.90 L127.14,281.80 L127.25,282.70 L127.37,283.58 L127.49,284.45 L127.61,285.31 L127.73,286.17 L127.86,287.01 L127.99,287.84 L128.12,288.66 L128.25,289.47 L128.39,290.26 L128.53,291.05 L128.68,291.82 L128.82,292.58 L128.97,293.33 L129.13,294.06 L129.28,294.78 L129.44,295.49 L129.60,296.18 L129.76,296.86 L129.92,297.53 L130.09,298.18 L130.26,298.82 L130.43,299.44 L130.60,300.05 L130.78,300.64 L130.96,301.22 L131.13,301.78 L131.32,302.33 L131.50,302.86 L131.69,303.38 L131.87,303.88 L132.06,304.36 L132.25,304.83 L132.44,305.28 L132.64,305.71 L132.83,306.13 L133.03,306.53 L133.23,306.91 L133.43,307.28 L133.63,307.63 L133.83,307.96 L134.03,308.28 L134.24,308.58 L134.44,308.86 L134.65,309.12 L134.86,309.36 L135.06,309.59 L135.27,309.80 L135.48,309.99 L135.69,310.16 L135.90,310.32 L136.11,310.45 L136.32,310.57 L136.54,310.67 L136.75,310.75 L136.96,310.82 L137.17,310.86 L137.39,310.89 L137.60,310.90 L137.81,310.89 L138.03,310.86 L138.24,310.82 L138.45,310.75 L138.66,310.67 L138.88,310.57 L139.09,310.45 L139.30,310.32 L139.51,310.16 L139.72,309.99 L139.93,309.80 L140.14,309.59 L140.34,309.36 L140.55,309.12 L140.76,308.86 L140.96,308.58 L141.17,308.28 L141.37,307.96 L141.57,307.63 L141.77,307.28 L141.97,306.91 L142.17,306.53 L142.37,306.13 L142.56,305.71 L142.76,305.28 L142.95,304.83 L143.14,304.36 L143.33,303.88 L143.51,303.38 L143.70,302.86 L143.88,302.33 L144.07,301.78 L144.24,301.22 L144.42,300.64 L144.60,300.05 L144.77,299.44 L144.94,298.82 L145.11,298.18 L145.28,297.53 L145.44,296.86 L145.60,296.18 L145.76,295.49 L145.92,294.78 L146.07,294.06 L146.23,293.33 L146.38,292.58 L146.52,291.82 L146.67,291.05 L146.81,290.26 L146.95,289.47 L147.08,288.66 L147.21,287.84 L147.34,287.01 L147.47,286.17 L147.59,285.31 L147.71,284.45 L147.83,283.58 L147.95,282.70 L148.06,281.80 L148.17,280.90 L148.27,279.99 L148.37,279.07 L148.47,278.14 L148.57,277.20 L148.66,276.26 L148.75,275.30 L148.83,274.34 L148.91,273.38 L148.99,272.40 L149.06,271.42 L149.14,270.43 L149.20,269.44 L149.27,268.44 L149.33,267.44 L149.38,266.43 L149.44,265.42 L149.49,264.40 L149.53,263.37 L149.58,262.35 L149.61,261.32 L149.65,260.29 L149.68,259.25 L149.71,258.21 L149.73,257.17 L149.75,256.13 L149.77,255.09 L149.78,254.04 L149.79,252.99 L149.80,251.95 L149.80,250.90" stroke="#5a5a5a" stroke-width="1.05" stroke-dasharray="5.9,3.1" fill="none" clip-path="url(#cpc)"/>
<rect x="34.60" y="15.00" width="311.10" height="127.00" fill="none" stroke="#555" stroke-width="0.8"/>
<line x1="65.71" y1="142.00" x2="65.71" y2="138.70" stroke="#555" stroke-width="0.8"/>
<line x1="65.71" y1="15.00" x2="65.71" y2="18.30" stroke="#555" stroke-width="0.8"/>
<line x1="96.82" y1="142.00" x2="96.82" y2="138.70" stroke="#555" stroke-width="0.8"/>
<line x1="96.82" y1="15.00" x2="96.82" y2="18.30" stroke="#555" stroke-width="0.8"/>
<line x1="127.93" y1="142.00" x2="127.93" y2="138.70" stroke="#555" stroke-width="0.8"/>
<line x1="127.93" y1="15.00" x2="127.93" y2="18.30" stroke="#555" stroke-width="0.8"/>
<line x1="159.04" y1="142.00" x2="159.04" y2="138.70" stroke="#555" stroke-width="0.8"/>
<line x1="159.04" y1="15.00" x2="159.04" y2="18.30" stroke="#555" stroke-width="0.8"/>
<line x1="190.15" y1="142.00" x2="190.15" y2="138.70" stroke="#555" stroke-width="0.8"/>
<line x1="190.15" y1="15.00" x2="190.15" y2="18.30" stroke="#555" stroke-width="0.8"/>
<line x1="221.26" y1="142.00" x2="221.26" y2="138.70" stroke="#555" stroke-width="0.8"/>
<line x1="221.26" y1="15.00" x2="221.26" y2="18.30" stroke="#555" stroke-width="0.8"/>
<line x1="252.37" y1="142.00" x2="252.37" y2="138.70" stroke="#555" stroke-width="0.8"/>
<line x1="252.37" y1="15.00" x2="252.37" y2="18.30" stroke="#555" stroke-width="0.8"/>
<line x1="283.48" y1="142.00" x2="283.48" y2="138.70" stroke="#555" stroke-width="0.8"/>
<line x1="283.48" y1="15.00" x2="283.48" y2="18.30" stroke="#555" stroke-width="0.8"/>
<line x1="314.59" y1="142.00" x2="314.59" y2="138.70" stroke="#555" stroke-width="0.8"/>
<line x1="314.59" y1="15.00" x2="314.59" y2="18.30" stroke="#555" stroke-width="0.8"/>
<line x1="345.70" y1="142.00" x2="345.70" y2="138.70" stroke="#555" stroke-width="0.8"/>
<line x1="345.70" y1="15.00" x2="345.70" y2="18.30" stroke="#555" stroke-width="0.8"/>
<line x1="34.60" y1="142.00" x2="37.90" y2="142.00" stroke="#555" stroke-width="0.8"/>
<line x1="345.70" y1="142.00" x2="342.40" y2="142.00" stroke="#555" stroke-width="0.8"/>
<line x1="34.60" y1="120.83" x2="37.90" y2="120.83" stroke="#555" stroke-width="0.8"/>
<line x1="345.70" y1="120.83" x2="342.40" y2="120.83" stroke="#555" stroke-width="0.8"/>
<line x1="34.60" y1="99.67" x2="37.90" y2="99.67" stroke="#555" stroke-width="0.8"/>
<line x1="345.70" y1="99.67" x2="342.40" y2="99.67" stroke="#555" stroke-width="0.8"/>
<line x1="34.60" y1="78.50" x2="37.90" y2="78.50" stroke="#555" stroke-width="0.8"/>
<line x1="345.70" y1="78.50" x2="342.40" y2="78.50" stroke="#555" stroke-width="0.8"/>
<line x1="34.60" y1="57.33" x2="37.90" y2="57.33" stroke="#555" stroke-width="0.8"/>
<line x1="345.70" y1="57.33" x2="342.40" y2="57.33" stroke="#555" stroke-width="0.8"/>
<line x1="34.60" y1="36.17" x2="37.90" y2="36.17" stroke="#555" stroke-width="0.8"/>
<line x1="345.70" y1="36.17" x2="342.40" y2="36.17" stroke="#555" stroke-width="0.8"/>
<line x1="34.60" y1="15.00" x2="37.90" y2="15.00" stroke="#555" stroke-width="0.8"/>
<line x1="345.70" y1="15.00" x2="342.40" y2="15.00" stroke="#555" stroke-width="0.8"/>
<text x="65.31" y="156.70" font-size="10.00" fill="#262626" text-anchor="middle">100</text>
<text x="96.42" y="156.70" font-size="10.00" fill="#262626" text-anchor="middle">200</text>
<text x="127.53" y="156.70" font-size="10.00" fill="#262626" text-anchor="middle">300</text>
<text x="158.64" y="156.70" font-size="10.00" fill="#262626" text-anchor="middle">400</text>
<text x="189.75" y="156.70" font-size="10.00" fill="#262626" text-anchor="middle">500</text>
<text x="220.86" y="156.70" font-size="10.00" fill="#262626" text-anchor="middle">600</text>
<text x="251.97" y="156.70" font-size="10.00" fill="#262626" text-anchor="middle">700</text>
<text x="283.08" y="156.70" font-size="10.00" fill="#262626" text-anchor="middle">800</text>
<text x="314.19" y="156.70" font-size="10.00" fill="#262626" text-anchor="middle">900</text>
<text x="345.30" y="156.70" font-size="10.00" fill="#262626" text-anchor="middle">1000</text>
<text x="30.40" y="145.80" font-size="10.00" fill="#262626" text-anchor="end">-1.5</text>
<text x="30.40" y="124.63" font-size="10.00" fill="#262626" text-anchor="end">-1</text>
<text x="30.40" y="103.47" font-size="10.00" fill="#262626" text-anchor="end">-0.5</text>
<text x="30.40" y="82.30" font-size="10.00" fill="#262626" text-anchor="end">0</text>
<text x="30.40" y="61.13" font-size="10.00" fill="#262626" text-anchor="end">0.5</text>
<text x="30.40" y="39.97" font-size="10.00" fill="#262626" text-anchor="end">1</text>
<text x="30.40" y="18.80" font-size="10.00" fill="#262626" text-anchor="end">1.5</text>
<text x="190.15" y="9.60" font-size="13.60" fill="#000" text-anchor="middle">(a)</text>
<text x="190.15" y="170.70" font-size="10.70" fill="#262626" text-anchor="middle">Time (ms)</text>
<rect x="34.60" y="127.50" width="311.10" height="14.50" fill="#fff" stroke="#555" stroke-width="0.8"/>
<line x1="37.30" y1="134.70" x2="59.10" y2="134.70" stroke="#000" stroke-width="1.1"/>
<text x="62.00" y="137.90" font-size="8.70" fill="#000">trace</text>
<line x1="85.30" y1="134.70" x2="107.60" y2="134.70" stroke="#ff00ff" stroke-width="1.1"/>
<text x="110.00" y="137.90" font-size="8.70" fill="#000">reflection series</text>
<line x1="175.40" y1="134.70" x2="197.40" y2="134.70" stroke="#0072bd" stroke-width="1.1"/>
<text x="200.00" y="137.90" font-size="8.70" fill="#000">Hilbert envelope</text>
<path d="M278.1,130.95 L281.2,135.95 L275.0,135.95 Z" fill="none" stroke="#0000ff" stroke-width="1.1"/>
<text x="291.50" y="137.90" font-size="8.70" fill="#000">local maxima</text>
<text transform="translate(8.20,78.50) rotate(-90)" font-size="10.70" fill="#262626" text-anchor="middle">Amp.</text>
<rect x="34.60" y="191.50" width="311.10" height="127.00" fill="none" stroke="#555" stroke-width="0.8"/>
<line x1="65.71" y1="318.50" x2="65.71" y2="315.20" stroke="#555" stroke-width="0.8"/>
<line x1="65.71" y1="191.50" x2="65.71" y2="194.80" stroke="#555" stroke-width="0.8"/>
<line x1="96.82" y1="318.50" x2="96.82" y2="315.20" stroke="#555" stroke-width="0.8"/>
<line x1="96.82" y1="191.50" x2="96.82" y2="194.80" stroke="#555" stroke-width="0.8"/>
<line x1="127.93" y1="318.50" x2="127.93" y2="315.20" stroke="#555" stroke-width="0.8"/>
<line x1="127.93" y1="191.50" x2="127.93" y2="194.80" stroke="#555" stroke-width="0.8"/>
<line x1="159.04" y1="318.50" x2="159.04" y2="315.20" stroke="#555" stroke-width="0.8"/>
<line x1="159.04" y1="191.50" x2="159.04" y2="194.80" stroke="#555" stroke-width="0.8"/>
<line x1="190.15" y1="318.50" x2="190.15" y2="315.20" stroke="#555" stroke-width="0.8"/>
<line x1="190.15" y1="191.50" x2="190.15" y2="194.80" stroke="#555" stroke-width="0.8"/>
<line x1="221.26" y1="318.50" x2="221.26" y2="315.20" stroke="#555" stroke-width="0.8"/>
<line x1="221.26" y1="191.50" x2="221.26" y2="194.80" stroke="#555" stroke-width="0.8"/>
<line x1="252.37" y1="318.50" x2="252.37" y2="315.20" stroke="#555" stroke-width="0.8"/>
<line x1="252.37" y1="191.50" x2="252.37" y2="194.80" stroke="#555" stroke-width="0.8"/>
<line x1="283.48" y1="318.50" x2="283.48" y2="315.20" stroke="#555" stroke-width="0.8"/>
<line x1="283.48" y1="191.50" x2="283.48" y2="194.80" stroke="#555" stroke-width="0.8"/>
<line x1="314.59" y1="318.50" x2="314.59" y2="315.20" stroke="#555" stroke-width="0.8"/>
<line x1="314.59" y1="191.50" x2="314.59" y2="194.80" stroke="#555" stroke-width="0.8"/>
<line x1="345.70" y1="318.50" x2="345.70" y2="315.20" stroke="#555" stroke-width="0.8"/>
<line x1="345.70" y1="191.50" x2="345.70" y2="194.80" stroke="#555" stroke-width="0.8"/>
<line x1="34.60" y1="318.20" x2="37.90" y2="318.20" stroke="#555" stroke-width="0.8"/>
<line x1="345.70" y1="318.20" x2="342.40" y2="318.20" stroke="#555" stroke-width="0.8"/>
<line x1="34.60" y1="297.03" x2="37.90" y2="297.03" stroke="#555" stroke-width="0.8"/>
<line x1="345.70" y1="297.03" x2="342.40" y2="297.03" stroke="#555" stroke-width="0.8"/>
<line x1="34.60" y1="275.87" x2="37.90" y2="275.87" stroke="#555" stroke-width="0.8"/>
<line x1="345.70" y1="275.87" x2="342.40" y2="275.87" stroke="#555" stroke-width="0.8"/>
<line x1="34.60" y1="254.70" x2="37.90" y2="254.70" stroke="#555" stroke-width="0.8"/>
<line x1="345.70" y1="254.70" x2="342.40" y2="254.70" stroke="#555" stroke-width="0.8"/>
<line x1="34.60" y1="233.53" x2="37.90" y2="233.53" stroke="#555" stroke-width="0.8"/>
<line x1="345.70" y1="233.53" x2="342.40" y2="233.53" stroke="#555" stroke-width="0.8"/>
<line x1="34.60" y1="212.37" x2="37.90" y2="212.37" stroke="#555" stroke-width="0.8"/>
<line x1="345.70" y1="212.37" x2="342.40" y2="212.37" stroke="#555" stroke-width="0.8"/>
<line x1="34.60" y1="191.20" x2="37.90" y2="191.20" stroke="#555" stroke-width="0.8"/>
<line x1="345.70" y1="191.20" x2="342.40" y2="191.20" stroke="#555" stroke-width="0.8"/>
<text x="65.31" y="333.20" font-size="10.00" fill="#262626" text-anchor="middle">100</text>
<text x="96.42" y="333.20" font-size="10.00" fill="#262626" text-anchor="middle">200</text>
<text x="127.53" y="333.20" font-size="10.00" fill="#262626" text-anchor="middle">300</text>
<text x="158.64" y="333.20" font-size="10.00" fill="#262626" text-anchor="middle">400</text>
<text x="189.75" y="333.20" font-size="10.00" fill="#262626" text-anchor="middle">500</text>
<text x="220.86" y="333.20" font-size="10.00" fill="#262626" text-anchor="middle">600</text>
<text x="251.97" y="333.20" font-size="10.00" fill="#262626" text-anchor="middle">700</text>
<text x="283.08" y="333.20" font-size="10.00" fill="#262626" text-anchor="middle">800</text>
<text x="314.19" y="333.20" font-size="10.00" fill="#262626" text-anchor="middle">900</text>
<text x="345.30" y="333.20" font-size="10.00" fill="#262626" text-anchor="middle">1000</text>
<text x="30.40" y="322.00" font-size="10.00" fill="#262626" text-anchor="end">-1.5</text>
<text x="30.40" y="300.83" font-size="10.00" fill="#262626" text-anchor="end">-1</text>
<text x="30.40" y="279.67" font-size="10.00" fill="#262626" text-anchor="end">-0.5</text>
<text x="30.40" y="258.50" font-size="10.00" fill="#262626" text-anchor="end">0</text>
<text x="30.40" y="237.33" font-size="10.00" fill="#262626" text-anchor="end">0.5</text>
<text x="30.40" y="216.17" font-size="10.00" fill="#262626" text-anchor="end">1</text>
<text x="30.40" y="195.00" font-size="10.00" fill="#262626" text-anchor="end">1.5</text>
<text x="190.15" y="186.10" font-size="13.60" fill="#000" text-anchor="middle">(c)</text>
<text x="190.15" y="347.20" font-size="10.70" fill="#262626" text-anchor="middle">Time (ms)</text>
<rect x="151.30" y="303.70" width="194.40" height="14.80" fill="#fff" stroke="#555" stroke-width="0.8"/>
<line x1="154.40" y1="311.00" x2="176.20" y2="311.00" stroke="#000" stroke-width="1.1"/>
<text x="179.00" y="313.90" font-size="8.70" fill="#000">trace</text>
<line x1="201.90" y1="311.00" x2="224.20" y2="311.00" stroke="#ff00ff" stroke-width="1.1"/>
<text x="226.25" y="313.90" font-size="8.70" fill="#000">reflection series</text>
<line x1="292.00" y1="311.00" x2="313.90" y2="311.00" stroke="#ff0000" stroke-width="1.1"/>
<text x="316.50" y="313.90" font-size="8.70" fill="#000">E-SAP</text>
<text transform="translate(8.20,255.00) rotate(-90)" font-size="10.70" fill="#262626" text-anchor="middle">Amp.</text>
<path d="M406.20,142.00 L409.31,141.98 L412.43,141.84 L415.54,141.18 L418.65,140.15 L421.76,139.11 L424.88,132.39 L427.99,133.13 L431.10,139.08 L434.22,130.22 L437.33,122.89 L440.44,120.63 L443.56,113.43 L446.67,125.58 L449.78,113.79 L452.89,129.17 L456.01,132.86 L459.12,114.64 L462.23,137.23 L465.35,127.32 L468.46,117.03 L471.57,112.28 L474.69,99.55 L477.80,100.41 L480.91,128.32 L484.02,115.93 L487.14,132.96 L490.25,118.01 L493.36,100.32 L496.48,119.75 L499.59,133.13 L502.70,140.44 L505.82,131.62 L508.93,128.13 L512.04,134.46 L515.15,130.31 L518.27,135.02 L521.38,133.13 L524.49,127.31 L527.61,138.72 L530.72,138.08 L533.83,137.38 L536.95,140.29 L540.06,137.00 L543.17,135.72 L546.28,139.90 L549.40,139.99 L552.51,140.91 L555.62,141.18 L558.74,140.58 L561.85,141.30 L564.96,141.60 L568.08,141.27 L571.19,141.61 L574.30,141.70 L577.41,141.91 L580.53,141.82 L583.64,141.83 L586.75,141.89 L589.87,141.81 L592.98,141.93 L596.09,141.99 L599.21,141.96 L602.32,141.98 L605.43,141.99 L608.55,141.99 L611.66,141.99 L614.77,141.99 L617.88,141.99 L621.00,141.99 L624.11,142.00 L627.22,142.00 L630.34,142.00 L633.45,142.00 L636.56,142.00 L639.67,142.00 L642.79,142.00 L645.90,142.00 L649.01,142.00 L652.13,142.00 L655.24,142.00 L658.35,142.00 L661.47,142.00 L664.58,142.00 L667.69,142.00 L670.81,142.00 L673.92,142.00 L677.03,142.00 L680.14,142.00 L683.26,142.00 L686.37,142.00 L689.48,142.00 L692.60,142.00 L695.71,142.00 L698.82,142.00 L701.93,142.00 L705.05,142.00 L708.16,142.00 L711.27,142.00 L714.39,142.00 L717.50,142.00" fill="none" stroke="#000" stroke-width="1.18" stroke-linejoin="round" clip-path="url(#cpb)"/>
<path d="M407.05,15.00 L409.31,85.04 L412.43,127.91 L415.54,127.54 L418.65,118.44 L421.76,82.54 L424.88,92.80 L427.99,111.12 L431.10,120.92 L434.22,99.04 L437.33,121.11 L440.44,129.86 L443.56,140.71 L446.67,121.76 L449.78,122.07 L452.89,120.26 L456.01,114.42 L459.12,133.85 L462.23,134.94 L465.35,140.10 L468.46,134.66 L471.57,129.72 L474.69,135.26 L477.80,138.80 L480.91,137.70 L484.02,138.43 L487.14,138.71 L490.25,139.63 L493.36,140.30 L496.48,140.64 L499.59,141.08 L502.70,141.26 L505.82,141.49 L508.93,141.82 L512.04,141.77 L515.15,141.77 L518.27,141.78 L521.38,141.67 L524.49,141.40 L527.61,141.52 L530.72,141.60 L533.83,141.52 L536.95,141.43 L540.06,141.37 L543.17,141.59 L546.28,141.56 L549.40,141.57 L552.51,141.46 L555.62,141.62 L558.74,141.68 L561.85,141.69 L564.96,141.64 L568.08,141.69 L571.19,141.81 L574.30,141.78 L577.41,141.78 L580.53,141.75 L583.64,141.85 L586.75,141.84 L589.87,141.80 L592.98,141.79 L596.09,141.83 L599.21,141.87 L602.32,141.81 L605.43,141.82 L608.55,141.82 L611.66,141.87 L614.77,141.84 L617.88,141.83 L621.00,141.84 L624.11,141.87 L627.22,141.88 L630.34,141.85 L633.45,141.87 L636.56,141.88 L639.67,141.90 L642.79,141.88 L645.90,141.89 L649.01,141.90 L652.13,141.91 L655.24,141.91 L658.35,141.90 L661.47,141.92 L664.58,141.92 L667.69,141.92 L670.81,141.91 L673.92,141.92 L677.03,141.93 L680.14,141.93 L683.26,141.92 L686.37,141.92 L689.48,141.94 L692.60,141.93 L695.71,141.93 L698.82,141.93 L701.93,141.94 L705.05,141.94 L708.16,141.94 L711.27,141.94 L714.39,141.94 L717.50,141.95" fill="none" stroke="#0072bd" stroke-width="1.18" stroke-dasharray="6.0,3.45" stroke-linejoin="round" clip-path="url(#cpb)"/>
<path d="M406.20,15.00 L406.20,142.00 L717.50,142.00" fill="none" stroke="#555" stroke-width="0.8"/>
<line x1="406.20" y1="142.00" x2="406.20" y2="138.70" stroke="#555" stroke-width="0.8"/>
<line x1="468.46" y1="142.00" x2="468.46" y2="138.70" stroke="#555" stroke-width="0.8"/>
<line x1="530.72" y1="142.00" x2="530.72" y2="138.70" stroke="#555" stroke-width="0.8"/>
<line x1="592.98" y1="142.00" x2="592.98" y2="138.70" stroke="#555" stroke-width="0.8"/>
<line x1="655.24" y1="142.00" x2="655.24" y2="138.70" stroke="#555" stroke-width="0.8"/>
<line x1="717.50" y1="142.00" x2="717.50" y2="138.70" stroke="#555" stroke-width="0.8"/>
<line x1="406.20" y1="142.00" x2="409.50" y2="142.00" stroke="#555" stroke-width="0.8"/>
<line x1="406.20" y1="110.25" x2="409.50" y2="110.25" stroke="#555" stroke-width="0.8"/>
<line x1="406.20" y1="78.50" x2="409.50" y2="78.50" stroke="#555" stroke-width="0.8"/>
<line x1="406.20" y1="46.75" x2="409.50" y2="46.75" stroke="#555" stroke-width="0.8"/>
<line x1="406.20" y1="15.00" x2="409.50" y2="15.00" stroke="#555" stroke-width="0.8"/>
<text x="405.80" y="156.70" font-size="10.00" fill="#262626" text-anchor="middle">0</text>
<text x="468.06" y="156.70" font-size="10.00" fill="#262626" text-anchor="middle">20</text>
<text x="530.32" y="156.70" font-size="10.00" fill="#262626" text-anchor="middle">40</text>
<text x="592.58" y="156.70" font-size="10.00" fill="#262626" text-anchor="middle">60</text>
<text x="654.84" y="156.70" font-size="10.00" fill="#262626" text-anchor="middle">80</text>
<text x="717.10" y="156.70" font-size="10.00" fill="#262626" text-anchor="middle">100</text>
<text x="402.00" y="145.80" font-size="10.00" fill="#262626" text-anchor="end">0</text>
<text x="402.00" y="114.05" font-size="10.00" fill="#262626" text-anchor="end">50</text>
<text x="402.00" y="82.30" font-size="10.00" fill="#262626" text-anchor="end">100</text>
<text x="402.00" y="50.55" font-size="10.00" fill="#262626" text-anchor="end">150</text>
<text x="402.00" y="18.80" font-size="10.00" fill="#262626" text-anchor="end">200</text>
<text x="561.85" y="9.60" font-size="13.60" fill="#000" text-anchor="middle">(b)</text>
<text x="561.85" y="170.70" font-size="10.70" fill="#262626" text-anchor="middle">Frequency (Hz)</text>
<path d="M406.20,15.00 L717.50,15.00 L717.50,142.00" fill="none" stroke="#555" stroke-width="0.8"/>
<line x1="406.20" y1="15.00" x2="406.20" y2="18.00" stroke="#555" stroke-width="0.8"/>
<line x1="468.46" y1="15.00" x2="468.46" y2="18.00" stroke="#555" stroke-width="0.8"/>
<line x1="530.72" y1="15.00" x2="530.72" y2="18.00" stroke="#555" stroke-width="0.8"/>
<line x1="592.98" y1="15.00" x2="592.98" y2="18.00" stroke="#555" stroke-width="0.8"/>
<line x1="655.24" y1="15.00" x2="655.24" y2="18.00" stroke="#555" stroke-width="0.8"/>
<line x1="717.50" y1="15.00" x2="717.50" y2="18.00" stroke="#555" stroke-width="0.8"/>
<line x1="717.50" y1="142.00" x2="714.50" y2="142.00" stroke="#555" stroke-width="0.8"/>
<line x1="717.50" y1="110.25" x2="714.50" y2="110.25" stroke="#555" stroke-width="0.8"/>
<line x1="717.50" y1="78.50" x2="714.50" y2="78.50" stroke="#555" stroke-width="0.8"/>
<line x1="717.50" y1="46.75" x2="714.50" y2="46.75" stroke="#555" stroke-width="0.8"/>
<line x1="717.50" y1="15.00" x2="714.50" y2="15.00" stroke="#555" stroke-width="0.8"/>
<rect x="623.30" y="15.00" width="94.20" height="26.60" fill="#fff" stroke="#555" stroke-width="0.8"/>
<line x1="626.10" y1="22.30" x2="648.70" y2="22.30" stroke="#000" stroke-width="1.1"/>
<text x="651.00" y="25.50" font-size="8.70" fill="#000">trace</text>
<line x1="626.10" y1="34.80" x2="648.70" y2="34.80" stroke="#0072bd" stroke-width="1.1" stroke-dasharray="5.7,3.8"/>
<text x="651.00" y="37.60" font-size="8.70" fill="#000">Hilbert envelope</text>
<text transform="translate(379.80,78.50) rotate(-90)" font-size="10.70" fill="#262626" text-anchor="middle">Amp.</text>
<path d="M406.20,318.20 L409.31,318.18 L412.43,318.04 L415.54,317.38 L418.65,316.35 L421.76,315.31 L424.88,308.59 L427.99,309.33 L431.10,315.28 L434.22,306.42 L437.33,299.09 L440.44,296.83 L443.56,289.63 L446.67,301.78 L449.78,289.99 L452.89,305.37 L456.01,309.06 L459.12,290.84 L462.23,313.43 L465.35,303.52 L468.46,293.23 L471.57,288.48 L474.69,275.75 L477.80,276.61 L480.91,304.52 L484.02,292.13 L487.14,309.16 L490.25,294.21 L493.36,276.52 L496.48,295.95 L499.59,309.33 L502.70,316.64 L505.82,307.82 L508.93,304.33 L512.04,310.66 L515.15,306.51 L518.27,311.22 L521.38,309.33 L524.49,303.51 L527.61,314.92 L530.72,314.28 L533.83,313.58 L536.95,316.49 L540.06,313.20 L543.17,311.92 L546.28,316.10 L549.40,316.19 L552.51,317.11 L555.62,317.38 L558.74,316.78 L561.85,317.50 L564.96,317.80 L568.08,317.47 L571.19,317.81 L574.30,317.90 L577.41,318.11 L580.53,318.02 L583.64,318.03 L586.75,318.09 L589.87,318.01 L592.98,318.13 L596.09,318.19 L599.21,318.16 L602.32,318.18 L605.43,318.19 L608.55,318.19 L611.66,318.19 L614.77,318.19 L617.88,318.19 L621.00,318.19 L624.11,318.20 L627.22,318.20 L630.34,318.20 L633.45,318.20 L636.56,318.20 L639.67,318.20 L642.79,318.20 L645.90,318.20 L649.01,318.20 L652.13,318.20 L655.24,318.20 L658.35,318.20 L661.47,318.20 L664.58,318.20 L667.69,318.20 L670.81,318.20 L673.92,318.20 L677.03,318.20 L680.14,318.20 L683.26,318.20 L686.37,318.20 L689.48,318.20 L692.60,318.20 L695.71,318.20 L698.82,318.20 L701.93,318.20 L705.05,318.20 L708.16,318.20 L711.27,318.20 L714.39,318.20 L717.50,318.20" fill="none" stroke="#000" stroke-width="1.18" stroke-linejoin="round" clip-path="url(#cpd)"/>
<path d="M406.20,256.99 L409.31,294.84 L412.43,275.91 L415.54,276.00 L418.65,281.72 L421.76,295.28 L424.88,255.09 L427.99,262.48 L431.10,306.67 L434.22,262.63 L437.33,271.76 L440.44,297.77 L443.56,280.31 L446.67,314.65 L449.78,297.19 L452.89,297.43 L456.01,314.01 L459.12,305.71 L462.23,303.62 L465.35,305.87 L468.46,313.16 L471.57,309.31 L474.69,308.90 L477.80,308.11 L480.91,309.05 L484.02,312.84 L487.14,315.90 L490.25,315.57 L493.36,312.33 L496.48,316.69 L499.59,317.42 L502.70,316.00 L505.82,316.82 L508.93,316.29 L512.04,317.82 L515.15,317.10 L518.27,316.71 L521.38,317.37 L524.49,317.04 L527.61,317.77 L530.72,317.13 L533.83,317.78 L536.95,317.65 L540.06,317.62 L543.17,317.64 L546.28,317.90 L549.40,317.84 L552.51,317.94 L555.62,317.97 L558.74,317.60 L561.85,317.77 L564.96,317.71 L568.08,318.00 L571.19,317.65 L574.30,317.91 L577.41,317.66 L580.53,317.95 L583.64,317.77 L586.75,317.83 L589.87,317.85 L592.98,317.90 L596.09,318.01 L599.21,317.80 L602.32,317.99 L605.43,317.91 L608.55,318.18 L611.66,317.99 L614.77,318.09 L617.88,318.01 L621.00,318.17 L624.11,318.09 L627.22,318.12 L630.34,318.09 L633.45,318.15 L636.56,318.07 L639.67,318.12 L642.79,318.10 L645.90,318.08 L649.01,318.12 L652.13,318.12 L655.24,318.15 L658.35,318.10 L661.47,318.15 L664.58,318.14 L667.69,318.11 L670.81,318.14 L673.92,318.15 L677.03,318.09 L680.14,318.17 L683.26,318.08 L686.37,318.18 L689.48,318.08 L692.60,318.15 L695.71,318.10 L698.82,318.15 L701.93,318.15 L705.05,318.11 L708.16,318.15 L711.27,318.14 L714.39,318.17 L717.50,318.14" fill="none" stroke="#ff0000" stroke-width="1.18" stroke-dasharray="6.0,3.45" stroke-linejoin="round" clip-path="url(#cpd)"/>
<path d="M406.20,191.50 L406.20,318.50 L717.50,318.50" fill="none" stroke="#555" stroke-width="0.8"/>
<line x1="406.20" y1="318.50" x2="406.20" y2="315.20" stroke="#555" stroke-width="0.8"/>
<line x1="468.46" y1="318.50" x2="468.46" y2="315.20" stroke="#555" stroke-width="0.8"/>
<line x1="530.72" y1="318.50" x2="530.72" y2="315.20" stroke="#555" stroke-width="0.8"/>
<line x1="592.98" y1="318.50" x2="592.98" y2="315.20" stroke="#555" stroke-width="0.8"/>
<line x1="655.24" y1="318.50" x2="655.24" y2="315.20" stroke="#555" stroke-width="0.8"/>
<line x1="717.50" y1="318.50" x2="717.50" y2="315.20" stroke="#555" stroke-width="0.8"/>
<line x1="406.20" y1="318.20" x2="409.50" y2="318.20" stroke="#555" stroke-width="0.8"/>
<line x1="406.20" y1="286.45" x2="409.50" y2="286.45" stroke="#555" stroke-width="0.8"/>
<line x1="406.20" y1="254.70" x2="409.50" y2="254.70" stroke="#555" stroke-width="0.8"/>
<line x1="406.20" y1="222.95" x2="409.50" y2="222.95" stroke="#555" stroke-width="0.8"/>
<line x1="406.20" y1="191.20" x2="409.50" y2="191.20" stroke="#555" stroke-width="0.8"/>
<text x="405.80" y="333.20" font-size="10.00" fill="#262626" text-anchor="middle">0</text>
<text x="468.06" y="333.20" font-size="10.00" fill="#262626" text-anchor="middle">20</text>
<text x="530.32" y="333.20" font-size="10.00" fill="#262626" text-anchor="middle">40</text>
<text x="592.58" y="333.20" font-size="10.00" fill="#262626" text-anchor="middle">60</text>
<text x="654.84" y="333.20" font-size="10.00" fill="#262626" text-anchor="middle">80</text>
<text x="717.10" y="333.20" font-size="10.00" fill="#262626" text-anchor="middle">100</text>
<text x="402.00" y="322.00" font-size="10.00" fill="#262626" text-anchor="end">0</text>
<text x="402.00" y="290.25" font-size="10.00" fill="#262626" text-anchor="end">50</text>
<text x="402.00" y="258.50" font-size="10.00" fill="#262626" text-anchor="end">100</text>
<text x="402.00" y="226.75" font-size="10.00" fill="#262626" text-anchor="end">150</text>
<text x="402.00" y="195.00" font-size="10.00" fill="#262626" text-anchor="end">200</text>
<text x="561.85" y="186.10" font-size="13.60" fill="#000" text-anchor="middle">(d)</text>
<text x="561.85" y="347.20" font-size="10.70" fill="#262626" text-anchor="middle">Frequency (Hz)</text>
<path d="M406.20,191.50 L717.50,191.50 L717.50,318.50" fill="none" stroke="#555" stroke-width="0.8"/>
<line x1="406.20" y1="191.50" x2="406.20" y2="194.50" stroke="#555" stroke-width="0.8"/>
<line x1="468.46" y1="191.50" x2="468.46" y2="194.50" stroke="#555" stroke-width="0.8"/>
<line x1="530.72" y1="191.50" x2="530.72" y2="194.50" stroke="#555" stroke-width="0.8"/>
<line x1="592.98" y1="191.50" x2="592.98" y2="194.50" stroke="#555" stroke-width="0.8"/>
<line x1="655.24" y1="191.50" x2="655.24" y2="194.50" stroke="#555" stroke-width="0.8"/>
<line x1="717.50" y1="191.50" x2="717.50" y2="194.50" stroke="#555" stroke-width="0.8"/>
<line x1="717.50" y1="318.20" x2="714.50" y2="318.20" stroke="#555" stroke-width="0.8"/>
<line x1="717.50" y1="286.45" x2="714.50" y2="286.45" stroke="#555" stroke-width="0.8"/>
<line x1="717.50" y1="254.70" x2="714.50" y2="254.70" stroke="#555" stroke-width="0.8"/>
<line x1="717.50" y1="222.95" x2="714.50" y2="222.95" stroke="#555" stroke-width="0.8"/>
<line x1="717.50" y1="191.20" x2="714.50" y2="191.20" stroke="#555" stroke-width="0.8"/>
<rect x="660.30" y="191.50" width="57.20" height="25.90" fill="#fff" stroke="#555" stroke-width="0.8"/>
<line x1="663.10" y1="198.70" x2="685.70" y2="198.70" stroke="#000" stroke-width="1.1"/>
<text x="688.00" y="201.60" font-size="8.70" fill="#000">trace</text>
<line x1="663.10" y1="210.45" x2="685.70" y2="210.45" stroke="#ff0000" stroke-width="1.1" stroke-dasharray="5.7,3.8"/>
<text x="688.00" y="213.20" font-size="8.70" fill="#000">E-SAP</text>
<text transform="translate(379.80,255.00) rotate(-90)" font-size="10.70" fill="#262626" text-anchor="middle">Amp.</text>
</svg>
</body></html>
